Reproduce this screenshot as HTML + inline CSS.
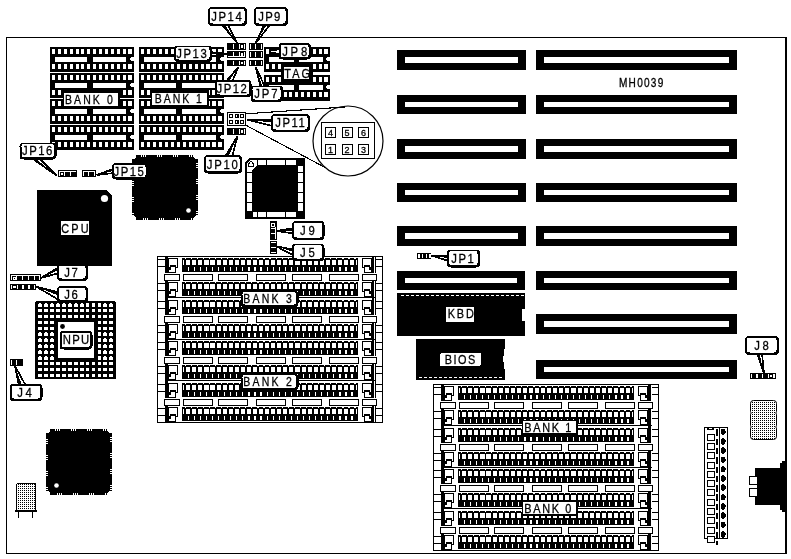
<!DOCTYPE html>
<html><head><meta charset="utf-8"><title>MH0039 motherboard layout diagram</title>
<style>
html,body{margin:0;padding:0;background:#fff;}
body{width:791px;height:559px;overflow:hidden;}
svg{display:block;font-family:"Liberation Sans",sans-serif;}
svg text{stroke:#000;stroke-width:0.3px;}
svg path, svg rect, svg polygon{shape-rendering:crispEdges;}
svg circle, svg .aa{shape-rendering:geometricPrecision;}
svg{will-change:transform;}
</style></head><body>
<svg width="791" height="559" viewBox="0 0 791 559">

<path fill="#000" d="M6 37h781v1h-781zM6 37h1v517h-1zM785 37h2v517h-2zM6 553h781v1h-781zM50 47h84v25h-84z"/>
<path fill="#fff" d="M52 49h3.1v5h-3.1zM52 64h3.1v5h-3.1zM57.88 49h3.1v5h-3.1zM57.88 64h3.1v5h-3.1zM63.75 49h3.1v5h-3.1zM63.75 64h3.1v5h-3.1zM69.63 49h3.1v5h-3.1zM69.63 64h3.1v5h-3.1zM75.51 49h3.1v5h-3.1zM75.51 64h3.1v5h-3.1zM81.38 49h3.1v5h-3.1zM81.38 64h3.1v5h-3.1zM87.26 49h3.1v5h-3.1zM87.26 64h3.1v5h-3.1zM93.14 49h3.1v5h-3.1zM93.14 64h3.1v5h-3.1zM99.02 49h3.1v5h-3.1zM99.02 64h3.1v5h-3.1zM104.89 49h3.1v5h-3.1zM104.89 64h3.1v5h-3.1zM110.77 49h3.1v5h-3.1zM110.77 64h3.1v5h-3.1zM116.65 49h3.1v5h-3.1zM116.65 64h3.1v5h-3.1zM122.52 49h3.1v5h-3.1zM122.52 64h3.1v5h-3.1zM128.4 49h3.1v5h-3.1zM128.4 64h3.1v5h-3.1zM55 57h32v5h-32zM93 57h33v5h-33zM131 57h3v4h-3zM130 58h1v2h-1z"/>
<path fill="#000" d="M139 47h85v25h-85z"/>
<path fill="#fff" d="M141 49h3.1v5h-3.1zM141 64h3.1v5h-3.1zM146.95 49h3.1v5h-3.1zM146.95 64h3.1v5h-3.1zM152.91 49h3.1v5h-3.1zM152.91 64h3.1v5h-3.1zM158.86 49h3.1v5h-3.1zM158.86 64h3.1v5h-3.1zM164.82 49h3.1v5h-3.1zM164.82 64h3.1v5h-3.1zM170.77 49h3.1v5h-3.1zM170.77 64h3.1v5h-3.1zM176.72 49h3.1v5h-3.1zM176.72 64h3.1v5h-3.1zM182.68 49h3.1v5h-3.1zM182.68 64h3.1v5h-3.1zM188.63 49h3.1v5h-3.1zM188.63 64h3.1v5h-3.1zM194.58 49h3.1v5h-3.1zM194.58 64h3.1v5h-3.1zM200.54 49h3.1v5h-3.1zM200.54 64h3.1v5h-3.1zM206.49 49h3.1v5h-3.1zM206.49 64h3.1v5h-3.1zM212.45 49h3.1v5h-3.1zM212.45 64h3.1v5h-3.1zM218.4 49h3.1v5h-3.1zM218.4 64h3.1v5h-3.1zM144 57h32v5h-32zM182 57h34v5h-34zM221 57h3v4h-3zM220 58h1v2h-1z"/>
<path fill="#000" d="M50 73h84v25h-84z"/>
<path fill="#fff" d="M52 75h3.1v5h-3.1zM52 90h3.1v5h-3.1zM57.88 75h3.1v5h-3.1zM57.88 90h3.1v5h-3.1zM63.75 75h3.1v5h-3.1zM63.75 90h3.1v5h-3.1zM69.63 75h3.1v5h-3.1zM69.63 90h3.1v5h-3.1zM75.51 75h3.1v5h-3.1zM75.51 90h3.1v5h-3.1zM81.38 75h3.1v5h-3.1zM81.38 90h3.1v5h-3.1zM87.26 75h3.1v5h-3.1zM87.26 90h3.1v5h-3.1zM93.14 75h3.1v5h-3.1zM93.14 90h3.1v5h-3.1zM99.02 75h3.1v5h-3.1zM99.02 90h3.1v5h-3.1zM104.89 75h3.1v5h-3.1zM104.89 90h3.1v5h-3.1zM110.77 75h3.1v5h-3.1zM110.77 90h3.1v5h-3.1zM116.65 75h3.1v5h-3.1zM116.65 90h3.1v5h-3.1zM122.52 75h3.1v5h-3.1zM122.52 90h3.1v5h-3.1zM128.4 75h3.1v5h-3.1zM128.4 90h3.1v5h-3.1zM55 83h32v5h-32zM93 83h33v5h-33zM131 83h3v4h-3zM130 84h1v2h-1z"/>
<path fill="#000" d="M139 73h85v25h-85z"/>
<path fill="#fff" d="M141 75h3.1v5h-3.1zM141 90h3.1v5h-3.1zM146.95 75h3.1v5h-3.1zM146.95 90h3.1v5h-3.1zM152.91 75h3.1v5h-3.1zM152.91 90h3.1v5h-3.1zM158.86 75h3.1v5h-3.1zM158.86 90h3.1v5h-3.1zM164.82 75h3.1v5h-3.1zM164.82 90h3.1v5h-3.1zM170.77 75h3.1v5h-3.1zM170.77 90h3.1v5h-3.1zM176.72 75h3.1v5h-3.1zM176.72 90h3.1v5h-3.1zM182.68 75h3.1v5h-3.1zM182.68 90h3.1v5h-3.1zM188.63 75h3.1v5h-3.1zM188.63 90h3.1v5h-3.1zM194.58 75h3.1v5h-3.1zM194.58 90h3.1v5h-3.1zM200.54 75h3.1v5h-3.1zM200.54 90h3.1v5h-3.1zM206.49 75h3.1v5h-3.1zM206.49 90h3.1v5h-3.1zM212.45 75h3.1v5h-3.1zM212.45 90h3.1v5h-3.1zM218.4 75h3.1v5h-3.1zM218.4 90h3.1v5h-3.1zM144 83h32v5h-32zM182 83h34v5h-34zM221 83h3v4h-3zM220 84h1v2h-1z"/>
<path fill="#000" d="M50 99h84v25h-84z"/>
<path fill="#fff" d="M52 101h3.1v5h-3.1zM52 116h3.1v5h-3.1zM57.88 101h3.1v5h-3.1zM57.88 116h3.1v5h-3.1zM63.75 101h3.1v5h-3.1zM63.75 116h3.1v5h-3.1zM69.63 101h3.1v5h-3.1zM69.63 116h3.1v5h-3.1zM75.51 101h3.1v5h-3.1zM75.51 116h3.1v5h-3.1zM81.38 101h3.1v5h-3.1zM81.38 116h3.1v5h-3.1zM87.26 101h3.1v5h-3.1zM87.26 116h3.1v5h-3.1zM93.14 101h3.1v5h-3.1zM93.14 116h3.1v5h-3.1zM99.02 101h3.1v5h-3.1zM99.02 116h3.1v5h-3.1zM104.89 101h3.1v5h-3.1zM104.89 116h3.1v5h-3.1zM110.77 101h3.1v5h-3.1zM110.77 116h3.1v5h-3.1zM116.65 101h3.1v5h-3.1zM116.65 116h3.1v5h-3.1zM122.52 101h3.1v5h-3.1zM122.52 116h3.1v5h-3.1zM128.4 101h3.1v5h-3.1zM128.4 116h3.1v5h-3.1zM55 109h32v5h-32zM93 109h33v5h-33zM131 109h3v4h-3zM130 110h1v2h-1z"/>
<path fill="#000" d="M139 99h85v25h-85z"/>
<path fill="#fff" d="M141 101h3.1v5h-3.1zM141 116h3.1v5h-3.1zM146.95 101h3.1v5h-3.1zM146.95 116h3.1v5h-3.1zM152.91 101h3.1v5h-3.1zM152.91 116h3.1v5h-3.1zM158.86 101h3.1v5h-3.1zM158.86 116h3.1v5h-3.1zM164.82 101h3.1v5h-3.1zM164.82 116h3.1v5h-3.1zM170.77 101h3.1v5h-3.1zM170.77 116h3.1v5h-3.1zM176.72 101h3.1v5h-3.1zM176.72 116h3.1v5h-3.1zM182.68 101h3.1v5h-3.1zM182.68 116h3.1v5h-3.1zM188.63 101h3.1v5h-3.1zM188.63 116h3.1v5h-3.1zM194.58 101h3.1v5h-3.1zM194.58 116h3.1v5h-3.1zM200.54 101h3.1v5h-3.1zM200.54 116h3.1v5h-3.1zM206.49 101h3.1v5h-3.1zM206.49 116h3.1v5h-3.1zM212.45 101h3.1v5h-3.1zM212.45 116h3.1v5h-3.1zM218.4 101h3.1v5h-3.1zM218.4 116h3.1v5h-3.1zM144 109h32v5h-32zM182 109h34v5h-34zM221 109h3v4h-3zM220 110h1v2h-1z"/>
<path fill="#000" d="M50 125h84v25h-84z"/>
<path fill="#fff" d="M52 127h3.1v5h-3.1zM52 142h3.1v5h-3.1zM57.88 127h3.1v5h-3.1zM57.88 142h3.1v5h-3.1zM63.75 127h3.1v5h-3.1zM63.75 142h3.1v5h-3.1zM69.63 127h3.1v5h-3.1zM69.63 142h3.1v5h-3.1zM75.51 127h3.1v5h-3.1zM75.51 142h3.1v5h-3.1zM81.38 127h3.1v5h-3.1zM81.38 142h3.1v5h-3.1zM87.26 127h3.1v5h-3.1zM87.26 142h3.1v5h-3.1zM93.14 127h3.1v5h-3.1zM93.14 142h3.1v5h-3.1zM99.02 127h3.1v5h-3.1zM99.02 142h3.1v5h-3.1zM104.89 127h3.1v5h-3.1zM104.89 142h3.1v5h-3.1zM110.77 127h3.1v5h-3.1zM110.77 142h3.1v5h-3.1zM116.65 127h3.1v5h-3.1zM116.65 142h3.1v5h-3.1zM122.52 127h3.1v5h-3.1zM122.52 142h3.1v5h-3.1zM128.4 127h3.1v5h-3.1zM128.4 142h3.1v5h-3.1zM55 135h32v5h-32zM93 135h33v5h-33zM131 135h3v4h-3zM130 136h1v2h-1z"/>
<path fill="#000" d="M139 125h85v25h-85z"/>
<path fill="#fff" d="M141 127h3.1v5h-3.1zM141 142h3.1v5h-3.1zM146.95 127h3.1v5h-3.1zM146.95 142h3.1v5h-3.1zM152.91 127h3.1v5h-3.1zM152.91 142h3.1v5h-3.1zM158.86 127h3.1v5h-3.1zM158.86 142h3.1v5h-3.1zM164.82 127h3.1v5h-3.1zM164.82 142h3.1v5h-3.1zM170.77 127h3.1v5h-3.1zM170.77 142h3.1v5h-3.1zM176.72 127h3.1v5h-3.1zM176.72 142h3.1v5h-3.1zM182.68 127h3.1v5h-3.1zM182.68 142h3.1v5h-3.1zM188.63 127h3.1v5h-3.1zM188.63 142h3.1v5h-3.1zM194.58 127h3.1v5h-3.1zM194.58 142h3.1v5h-3.1zM200.54 127h3.1v5h-3.1zM200.54 142h3.1v5h-3.1zM206.49 127h3.1v5h-3.1zM206.49 142h3.1v5h-3.1zM212.45 127h3.1v5h-3.1zM212.45 142h3.1v5h-3.1zM218.4 127h3.1v5h-3.1zM218.4 142h3.1v5h-3.1zM144 135h32v5h-32zM182 135h34v5h-34zM221 135h3v4h-3zM220 136h1v2h-1z"/>
<path fill="#000" d="M264 47h66v25h-66z"/>
<path fill="#fff" d="M266 49h3.1v5h-3.1zM266 64h3.1v5h-3.1zM271.84 49h3.1v5h-3.1zM271.84 64h3.1v5h-3.1zM277.68 49h3.1v5h-3.1zM277.68 64h3.1v5h-3.1zM283.52 49h3.1v5h-3.1zM283.52 64h3.1v5h-3.1zM289.36 49h3.1v5h-3.1zM289.36 64h3.1v5h-3.1zM295.2 49h3.1v5h-3.1zM295.2 64h3.1v5h-3.1zM301.04 49h3.1v5h-3.1zM301.04 64h3.1v5h-3.1zM306.88 49h3.1v5h-3.1zM306.88 64h3.1v5h-3.1zM312.72 49h3.1v5h-3.1zM312.72 64h3.1v5h-3.1zM318.56 49h3.1v5h-3.1zM318.56 64h3.1v5h-3.1zM324.4 49h3.1v5h-3.1zM324.4 64h3.1v5h-3.1zM268.6 57h25.7v5h-25.7zM299.3 57h24v5h-24zM327 57h3v4h-3zM326 58h1v2h-1z"/>
<path fill="#000" d="M264 75h66v26h-66z"/>
<path fill="#fff" d="M266 77h3.1v5h-3.1zM266 92h3.1v5h-3.1zM271.84 77h3.1v5h-3.1zM271.84 92h3.1v5h-3.1zM277.68 77h3.1v5h-3.1zM277.68 92h3.1v5h-3.1zM283.52 77h3.1v5h-3.1zM283.52 92h3.1v5h-3.1zM289.36 77h3.1v5h-3.1zM289.36 92h3.1v5h-3.1zM295.2 77h3.1v5h-3.1zM295.2 92h3.1v5h-3.1zM301.04 77h3.1v5h-3.1zM301.04 92h3.1v5h-3.1zM306.88 77h3.1v5h-3.1zM306.88 92h3.1v5h-3.1zM312.72 77h3.1v5h-3.1zM312.72 92h3.1v5h-3.1zM318.56 77h3.1v5h-3.1zM318.56 92h3.1v5h-3.1zM324.4 77h3.1v5h-3.1zM324.4 92h3.1v5h-3.1zM268.6 85h25.7v5h-25.7zM299.3 85h24v5h-24zM327 85h3v4h-3zM326 86h1v2h-1z"/>
<path fill="#000" d="M227 43h19v6.7h-19z"/>
<path fill="#fff" d="M233 44h1v4.5h-1zM239 44h1v4.5h-1zM244 44h1v4.5h-1zM240.9 45h2.2v2.7h-2.2z"/>
<path fill="#000" d="M249 43h14v6.7h-14z"/>
<path fill="#fff" d="M250.2 44h1v4.5h-1zM255.3 44h1v4.5h-1zM261 44h1v4.5h-1z"/>
<path fill="#000" d="M227 51h19v7h-19z"/>
<path fill="#fff" d="M233 52h1v4.8h-1zM239 52h1v4.8h-1zM244 52h1v4.8h-1zM240.9 53h2.2v3h-2.2zM228 56.4h16v0.8h-16z"/>
<path fill="#000" d="M249 51h14v7h-14z"/>
<path fill="#fff" d="M250.2 52h1v4.8h-1zM255.3 52h1v4.8h-1zM261 52h1v4.8h-1z"/>
<path fill="#000" d="M227 60h19v6h-19z"/>
<path fill="#fff" d="M233 61h1v3.8h-1zM239 61h1v3.8h-1zM244 61h1v3.8h-1zM240.9 62h2.2v2h-2.2z"/>
<path fill="#000" d="M249 60h14v6h-14z"/>
<path fill="#fff" d="M250.2 61h1v3.8h-1zM255.3 61h1v3.8h-1zM261 61h1v3.8h-1z"/>
<path fill="#000" d="M227 112h19v13.7h-19z"/>
<path fill="#fff" d="M228 113h17v11.7h-17z"/>
<path fill="#000" d="M229.3 114h3.8v4.4h-3.8z"/>
<path fill="#fff" d="M230.4 115.2h1.6v2h-1.6z"/>
<path fill="#000" d="M234.7 114h3.8v4.4h-3.8z"/>
<path fill="#fff" d="M235.8 115.2h1.6v2h-1.6z"/>
<path fill="#000" d="M240.1 114h3.8v4.4h-3.8z"/>
<path fill="#fff" d="M241.2 115.2h1.6v2h-1.6z"/>
<path fill="#000" d="M229.3 119.6h3.8v4.4h-3.8z"/>
<path fill="#fff" d="M230.4 120.8h1.6v2h-1.6z"/>
<path fill="#000" d="M234.7 119.6h3.8v4.4h-3.8z"/>
<path fill="#fff" d="M235.8 120.8h1.6v2h-1.6z"/>
<path fill="#000" d="M240.1 119.6h3.8v4.4h-3.8z"/>
<path fill="#fff" d="M241.2 120.8h1.6v2h-1.6z"/>
<path fill="#000" d="M227 128h19v7h-19z"/>
<path fill="#fff" d="M233 129h1v4.8h-1zM239 129h1v4.8h-1zM244 129h1v4.8h-1zM240.9 130h2.2v3h-2.2z"/>
<circle cx="348" cy="141" r="35" fill="#fff" stroke="#000" stroke-width="1.2"/>
<path d="M246 113.8L345 107M246 125.3L326 168" stroke="#000" stroke-width="1.1" fill="none"/>
<path fill="#000" d="M321 122h54v37h-54z"/>
<path fill="#fff" d="M322 123h52v35h-52z"/>
<path fill="#000" d="M325 127h11v11h-11z"/>
<path fill="#fff" d="M326 128h9v9h-9z"/>
<text x="330.5" y="135.9" font-size="9" fill="#000" text-anchor="middle" letter-spacing="0">4</text>
<path fill="#000" d="M341.5 127h11v11h-11z"/>
<path fill="#fff" d="M342.5 128h9v9h-9z"/>
<text x="347" y="135.9" font-size="9" fill="#000" text-anchor="middle" letter-spacing="0">5</text>
<path fill="#000" d="M358 127h11v11h-11z"/>
<path fill="#fff" d="M359 128h9v9h-9z"/>
<text x="363.5" y="135.9" font-size="9" fill="#000" text-anchor="middle" letter-spacing="0">6</text>
<path fill="#000" d="M325 144h11v11h-11z"/>
<path fill="#fff" d="M326 145h9v9h-9z"/>
<text x="330.5" y="152.9" font-size="9" fill="#000" text-anchor="middle" letter-spacing="0">1</text>
<path fill="#000" d="M341.5 144h11v11h-11z"/>
<path fill="#fff" d="M342.5 145h9v9h-9z"/>
<text x="347" y="152.9" font-size="9" fill="#000" text-anchor="middle" letter-spacing="0">2</text>
<path fill="#000" d="M358 144h11v11h-11z"/>
<path fill="#fff" d="M359 145h9v9h-9z"/>
<text x="363.5" y="152.9" font-size="9" fill="#000" text-anchor="middle" letter-spacing="0">3</text>
<path d="M249 158H305V219H245V162z" fill="#000"/>
<path d="M250 160H303V217H247V163z" fill="#fff"/>
<path d="M257 165H298V212H252V170z" fill="#000"/>
<path fill="#000" d="M297 158h8v8h-8zM245 211h8v8h-8zM297 211h8v8h-8zM257 160h1v5h-1zM257 212h1v5h-1zM266 160h1v5h-1zM266 212h1v5h-1zM285 160h1v5h-1zM285 212h1v5h-1zM296 160h1v5h-1zM296 212h1v5h-1zM247 172h5v1h-5zM298 172h5v1h-5zM247 182h5v1h-5zM298 182h5v1h-5zM247 192h5v1h-5zM298 192h5v1h-5zM247 202h5v1h-5zM298 202h5v1h-5z"/>
<path d="M248.5 164l2.5 -3l2.5 3v2.5h-5z" fill="#fff" stroke="#000" stroke-width="1"/>
<path fill="#000" d="M132 155h66v65h-66z"/>
<path fill="#fff" d="M132 155h3v4h-3zM132 155h4v3h-4zM195 155h3v4h-3zM194 155h4v3h-4zM132 216h3v4h-3zM132 217h4v3h-4zM195 216h3v4h-3zM194 217h4v3h-4zM141 155h0.8v2.2h-0.8zM143 217.8h0.8v2.2h-0.8zM132 165h2.2v0.8h-2.2zM195.8 163h2.2v0.8h-2.2zM143 155h0.8v2.2h-0.8zM145 217.8h0.8v2.2h-0.8zM132 167h2.2v0.8h-2.2zM195.8 165h2.2v0.8h-2.2zM145 155h0.8v2.2h-0.8zM147 217.8h0.8v2.2h-0.8zM132 169h2.2v0.8h-2.2zM195.8 167h2.2v0.8h-2.2zM157 155h0.8v2.2h-0.8zM159 217.8h0.8v2.2h-0.8zM132 181h2.2v0.8h-2.2zM195.8 179h2.2v0.8h-2.2zM159 155h0.8v2.2h-0.8zM161 217.8h0.8v2.2h-0.8zM132 183h2.2v0.8h-2.2zM195.8 181h2.2v0.8h-2.2zM161 155h0.8v2.2h-0.8zM163 217.8h0.8v2.2h-0.8zM132 185h2.2v0.8h-2.2zM195.8 183h2.2v0.8h-2.2zM173 155h0.8v2.2h-0.8zM175 217.8h0.8v2.2h-0.8zM132 197h2.2v0.8h-2.2zM195.8 195h2.2v0.8h-2.2zM175 155h0.8v2.2h-0.8zM177 217.8h0.8v2.2h-0.8zM132 199h2.2v0.8h-2.2zM195.8 197h2.2v0.8h-2.2zM177 155h0.8v2.2h-0.8zM179 217.8h0.8v2.2h-0.8zM132 201h2.2v0.8h-2.2zM195.8 199h2.2v0.8h-2.2zM189 155h0.8v2.2h-0.8zM191 217.8h0.8v2.2h-0.8zM132 213h2.2v0.8h-2.2zM195.8 211h2.2v0.8h-2.2zM191 155h0.8v2.2h-0.8zM193 217.8h0.8v2.2h-0.8zM132 215h2.2v0.8h-2.2zM195.8 213h2.2v0.8h-2.2zM193 155h0.8v2.2h-0.8zM195 217.8h0.8v2.2h-0.8zM132 217h2.2v0.8h-2.2zM195.8 215h2.2v0.8h-2.2z"/>
<circle cx="188.5" cy="210.5" r="2.3" fill="#fff"/>
<path fill="#000" d="M46 429h66v66h-66z"/>
<path fill="#fff" d="M46 429h3v4h-3zM46 429h4v3h-4zM109 429h3v4h-3zM108 429h4v3h-4zM46 491h3v4h-3zM46 492h4v3h-4zM109 491h3v4h-3zM108 492h4v3h-4zM55 429h0.8v2.2h-0.8zM57 492.8h0.8v2.2h-0.8zM46 439h2.2v0.8h-2.2zM109.8 437h2.2v0.8h-2.2zM57 429h0.8v2.2h-0.8zM59 492.8h0.8v2.2h-0.8zM46 441h2.2v0.8h-2.2zM109.8 439h2.2v0.8h-2.2zM59 429h0.8v2.2h-0.8zM61 492.8h0.8v2.2h-0.8zM46 443h2.2v0.8h-2.2zM109.8 441h2.2v0.8h-2.2zM71 429h0.8v2.2h-0.8zM73 492.8h0.8v2.2h-0.8zM46 455h2.2v0.8h-2.2zM109.8 453h2.2v0.8h-2.2zM73 429h0.8v2.2h-0.8zM75 492.8h0.8v2.2h-0.8zM46 457h2.2v0.8h-2.2zM109.8 455h2.2v0.8h-2.2zM75 429h0.8v2.2h-0.8zM77 492.8h0.8v2.2h-0.8zM46 459h2.2v0.8h-2.2zM109.8 457h2.2v0.8h-2.2zM87 429h0.8v2.2h-0.8zM89 492.8h0.8v2.2h-0.8zM46 471h2.2v0.8h-2.2zM109.8 469h2.2v0.8h-2.2zM89 429h0.8v2.2h-0.8zM91 492.8h0.8v2.2h-0.8zM46 473h2.2v0.8h-2.2zM109.8 471h2.2v0.8h-2.2zM91 429h0.8v2.2h-0.8zM93 492.8h0.8v2.2h-0.8zM46 475h2.2v0.8h-2.2zM109.8 473h2.2v0.8h-2.2zM103 429h0.8v2.2h-0.8zM105 492.8h0.8v2.2h-0.8zM46 487h2.2v0.8h-2.2zM109.8 485h2.2v0.8h-2.2zM105 429h0.8v2.2h-0.8zM107 492.8h0.8v2.2h-0.8zM46 489h2.2v0.8h-2.2zM109.8 487h2.2v0.8h-2.2zM107 429h0.8v2.2h-0.8zM109 492.8h0.8v2.2h-0.8zM46 491h2.2v0.8h-2.2zM109.8 489h2.2v0.8h-2.2z"/>
<circle cx="56.5" cy="485.5" r="2.3" fill="#fff"/>
<path d="M37 190H106L112 196V266H37z" fill="#000"/>
<circle cx="104.5" cy="198.5" r="3.6" fill="#fff"/>
<path fill="#fff" d="M61 221h28v14h-28z"/>
<text transform="translate(61.24 232.6) scale(0.84 1)" font-size="13" fill="#000" textLength="32.77" lengthAdjust="spacing">CPU</text>
<path fill="#000" d="M58 170h19v7h-19z"/>
<path fill="#fff" d="M59 171.1h17v0.9h-17zM59 171.1h1v4.7h-1zM64 171.1h1v4.7h-1zM70 171.1h1v4.7h-1zM60.8 173h2.3v2.3h-2.3z"/>
<path fill="#000" d="M61.5 173.7h0.9v0.9h-0.9zM82 170h14v7h-14z"/>
<path fill="#fff" d="M83.2 171.1h11.6v0.9h-11.6zM83.2 171.1h1v4.7h-1zM88.4 171.1h1v4.7h-1zM94 171.1h0.9v4.7h-0.9z"/>
<path fill="#000" d="M270 221h7v18.7h-7z"/>
<path fill="#fff" d="M271.1 222.5h4.1v4.4h-4.1z"/>
<path fill="#000" d="M272.1 223.7h2v2h-2z"/>
<path fill="#fff" d="M271 228h4.2v0.8h-4.2zM271 233.4h4.2v0.8h-4.2zM275.2 227h0.8v12h-0.8z"/>
<path fill="#000" d="M270 241h7v13.3h-7z"/>
<path fill="#fff" d="M271 242.2h5v0.9h-5zM271 247h5v1.4h-5zM271 251.5h5v1.2h-5z"/>
<path fill="#000" d="M10 274h31v7h-31z"/>
<path fill="#fff" d="M11.2 275.2h28.9v0.9h-28.9zM11.2 275.2h1v4.8h-1zM16.2 275.2h1v4.8h-1zM22.2 275.2h1v4.8h-1zM28.2 275.2h1v4.8h-1zM33.7 275.2h1v4.8h-1zM39.1 275.2h1v4.8h-1zM12.7 276.7h3v2.8h-3z"/>
<path fill="#000" d="M13.6 277.5h1.2v1.2h-1.2zM10 284h26v6h-26z"/>
<path fill="#fff" d="M11.2 285.1h1v4.1h-1zM17.2 285.1h1v4.1h-1zM22 285.1h2v4.1h-2zM28 285.1h2v4.1h-2zM34 285.1h1v4.1h-1zM12.7 286h3.4v2h-3.4z"/>
<path fill="#000" d="M35 301h81v78h-81z"/>
<path fill="#fff" d="M35 301h1v1h-1zM115 301h1v1h-1zM38.2 303.6h3.8v3h-3.8zM39 303h2.2v0.6h-2.2zM44.13 303.6h3.8v3h-3.8zM44.93 303h2.2v0.6h-2.2zM50.06 303.6h3.8v3h-3.8zM50.86 303h2.2v0.6h-2.2zM55.99 303.6h3.8v3h-3.8zM56.79 303h2.2v0.6h-2.2zM61.92 303.6h3.8v3h-3.8zM62.72 303h2.2v0.6h-2.2zM67.85 303.6h3.8v3h-3.8zM68.65 303h2.2v0.6h-2.2zM73.78 303.6h3.8v3h-3.8zM74.58 303h2.2v0.6h-2.2zM79.71 303.6h3.8v3h-3.8zM80.51 303h2.2v0.6h-2.2zM85.64 303.6h3.8v3h-3.8zM86.44 303h2.2v0.6h-2.2zM91.57 303.6h3.8v3h-3.8zM92.37 303h2.2v0.6h-2.2zM97.5 303.6h3.8v3h-3.8zM98.3 303h2.2v0.6h-2.2zM103.43 303.6h3.8v3h-3.8zM104.23 303h2.2v0.6h-2.2zM109.36 303.6h3.8v3h-3.8zM110.16 303h2.2v0.6h-2.2zM38.2 309.48h3.8v3h-3.8zM39 308.88h2.2v0.6h-2.2zM44.13 309.48h3.8v3h-3.8zM44.93 308.88h2.2v0.6h-2.2zM50.06 309.48h3.8v3h-3.8zM50.86 308.88h2.2v0.6h-2.2zM55.99 309.48h3.8v3h-3.8zM56.79 308.88h2.2v0.6h-2.2zM61.92 309.48h3.8v3h-3.8zM62.72 308.88h2.2v0.6h-2.2zM67.85 309.48h3.8v3h-3.8zM68.65 308.88h2.2v0.6h-2.2zM73.78 309.48h3.8v3h-3.8zM74.58 308.88h2.2v0.6h-2.2zM79.71 309.48h3.8v3h-3.8zM80.51 308.88h2.2v0.6h-2.2zM85.64 309.48h3.8v3h-3.8zM86.44 308.88h2.2v0.6h-2.2zM91.57 309.48h3.8v3h-3.8zM92.37 308.88h2.2v0.6h-2.2zM97.5 309.48h3.8v3h-3.8zM98.3 308.88h2.2v0.6h-2.2zM103.43 309.48h3.8v3h-3.8zM104.23 308.88h2.2v0.6h-2.2zM109.36 309.48h3.8v3h-3.8zM110.16 308.88h2.2v0.6h-2.2zM38.2 315.36h3.8v3h-3.8zM39 314.76h2.2v0.6h-2.2zM44.13 315.36h3.8v3h-3.8zM44.93 314.76h2.2v0.6h-2.2zM50.06 315.36h3.8v3h-3.8zM50.86 314.76h2.2v0.6h-2.2zM55.99 315.36h3.8v3h-3.8zM56.79 314.76h2.2v0.6h-2.2zM61.92 315.36h3.8v3h-3.8zM62.72 314.76h2.2v0.6h-2.2zM67.85 315.36h3.8v3h-3.8zM68.65 314.76h2.2v0.6h-2.2zM73.78 315.36h3.8v3h-3.8zM74.58 314.76h2.2v0.6h-2.2zM79.71 315.36h3.8v3h-3.8zM80.51 314.76h2.2v0.6h-2.2zM85.64 315.36h3.8v3h-3.8zM86.44 314.76h2.2v0.6h-2.2zM91.57 315.36h3.8v3h-3.8zM92.37 314.76h2.2v0.6h-2.2zM97.5 315.36h3.8v3h-3.8zM98.3 314.76h2.2v0.6h-2.2zM103.43 315.36h3.8v3h-3.8zM104.23 314.76h2.2v0.6h-2.2zM109.36 315.36h3.8v3h-3.8zM110.16 314.76h2.2v0.6h-2.2zM38.2 321.24h3.8v3h-3.8zM39 320.64h2.2v0.6h-2.2zM44.13 321.24h3.8v3h-3.8zM44.93 320.64h2.2v0.6h-2.2zM50.06 321.24h3.8v3h-3.8zM50.86 320.64h2.2v0.6h-2.2zM97.5 321.24h3.8v3h-3.8zM98.3 320.64h2.2v0.6h-2.2zM103.43 321.24h3.8v3h-3.8zM104.23 320.64h2.2v0.6h-2.2zM109.36 321.24h3.8v3h-3.8zM110.16 320.64h2.2v0.6h-2.2zM38.2 327.12h3.8v3h-3.8zM39 326.52h2.2v0.6h-2.2zM44.13 327.12h3.8v3h-3.8zM44.93 326.52h2.2v0.6h-2.2zM50.06 327.12h3.8v3h-3.8zM50.86 326.52h2.2v0.6h-2.2zM97.5 327.12h3.8v3h-3.8zM98.3 326.52h2.2v0.6h-2.2zM103.43 327.12h3.8v3h-3.8zM104.23 326.52h2.2v0.6h-2.2zM109.36 327.12h3.8v3h-3.8zM110.16 326.52h2.2v0.6h-2.2zM38.2 333h3.8v3h-3.8zM39 332.4h2.2v0.6h-2.2zM44.13 333h3.8v3h-3.8zM44.93 332.4h2.2v0.6h-2.2zM50.06 333h3.8v3h-3.8zM50.86 332.4h2.2v0.6h-2.2zM97.5 333h3.8v3h-3.8zM98.3 332.4h2.2v0.6h-2.2zM103.43 333h3.8v3h-3.8zM104.23 332.4h2.2v0.6h-2.2zM109.36 333h3.8v3h-3.8zM110.16 332.4h2.2v0.6h-2.2zM38.2 338.88h3.8v3h-3.8zM39 338.28h2.2v0.6h-2.2zM44.13 338.88h3.8v3h-3.8zM44.93 338.28h2.2v0.6h-2.2zM50.06 338.88h3.8v3h-3.8zM50.86 338.28h2.2v0.6h-2.2zM97.5 338.88h3.8v3h-3.8zM98.3 338.28h2.2v0.6h-2.2zM103.43 338.88h3.8v3h-3.8zM104.23 338.28h2.2v0.6h-2.2zM109.36 338.88h3.8v3h-3.8zM110.16 338.28h2.2v0.6h-2.2zM38.2 344.76h3.8v3h-3.8zM39 344.16h2.2v0.6h-2.2zM44.13 344.76h3.8v3h-3.8zM44.93 344.16h2.2v0.6h-2.2zM50.06 344.76h3.8v3h-3.8zM50.86 344.16h2.2v0.6h-2.2zM97.5 344.76h3.8v3h-3.8zM98.3 344.16h2.2v0.6h-2.2zM103.43 344.76h3.8v3h-3.8zM104.23 344.16h2.2v0.6h-2.2zM109.36 344.76h3.8v3h-3.8zM110.16 344.16h2.2v0.6h-2.2zM38.2 350.64h3.8v3h-3.8zM39 350.04h2.2v0.6h-2.2zM44.13 350.64h3.8v3h-3.8zM44.93 350.04h2.2v0.6h-2.2zM50.06 350.64h3.8v3h-3.8zM50.86 350.04h2.2v0.6h-2.2zM97.5 350.64h3.8v3h-3.8zM98.3 350.04h2.2v0.6h-2.2zM103.43 350.64h3.8v3h-3.8zM104.23 350.04h2.2v0.6h-2.2zM109.36 350.64h3.8v3h-3.8zM110.16 350.04h2.2v0.6h-2.2zM38.2 356.52h3.8v3h-3.8zM39 355.92h2.2v0.6h-2.2zM44.13 356.52h3.8v3h-3.8zM44.93 355.92h2.2v0.6h-2.2zM50.06 356.52h3.8v3h-3.8zM50.86 355.92h2.2v0.6h-2.2zM97.5 356.52h3.8v3h-3.8zM98.3 355.92h2.2v0.6h-2.2zM103.43 356.52h3.8v3h-3.8zM104.23 355.92h2.2v0.6h-2.2zM109.36 356.52h3.8v3h-3.8zM110.16 355.92h2.2v0.6h-2.2zM38.2 362.4h3.8v3h-3.8zM39 361.8h2.2v0.6h-2.2zM44.13 362.4h3.8v3h-3.8zM44.93 361.8h2.2v0.6h-2.2zM50.06 362.4h3.8v3h-3.8zM50.86 361.8h2.2v0.6h-2.2zM55.99 362.4h3.8v3h-3.8zM56.79 361.8h2.2v0.6h-2.2zM61.92 362.4h3.8v3h-3.8zM62.72 361.8h2.2v0.6h-2.2zM67.85 362.4h3.8v3h-3.8zM68.65 361.8h2.2v0.6h-2.2zM73.78 362.4h3.8v3h-3.8zM74.58 361.8h2.2v0.6h-2.2zM79.71 362.4h3.8v3h-3.8zM80.51 361.8h2.2v0.6h-2.2zM85.64 362.4h3.8v3h-3.8zM86.44 361.8h2.2v0.6h-2.2zM91.57 362.4h3.8v3h-3.8zM92.37 361.8h2.2v0.6h-2.2zM97.5 362.4h3.8v3h-3.8zM98.3 361.8h2.2v0.6h-2.2zM103.43 362.4h3.8v3h-3.8zM104.23 361.8h2.2v0.6h-2.2zM109.36 362.4h3.8v3h-3.8zM110.16 361.8h2.2v0.6h-2.2zM38.2 368.28h3.8v3h-3.8zM39 367.68h2.2v0.6h-2.2zM44.13 368.28h3.8v3h-3.8zM44.93 367.68h2.2v0.6h-2.2zM50.06 368.28h3.8v3h-3.8zM50.86 367.68h2.2v0.6h-2.2zM55.99 368.28h3.8v3h-3.8zM56.79 367.68h2.2v0.6h-2.2zM61.92 368.28h3.8v3h-3.8zM62.72 367.68h2.2v0.6h-2.2zM67.85 368.28h3.8v3h-3.8zM68.65 367.68h2.2v0.6h-2.2zM73.78 368.28h3.8v3h-3.8zM74.58 367.68h2.2v0.6h-2.2zM79.71 368.28h3.8v3h-3.8zM80.51 367.68h2.2v0.6h-2.2zM85.64 368.28h3.8v3h-3.8zM86.44 367.68h2.2v0.6h-2.2zM91.57 368.28h3.8v3h-3.8zM92.37 367.68h2.2v0.6h-2.2zM97.5 368.28h3.8v3h-3.8zM98.3 367.68h2.2v0.6h-2.2zM103.43 368.28h3.8v3h-3.8zM104.23 367.68h2.2v0.6h-2.2zM109.36 368.28h3.8v3h-3.8zM110.16 367.68h2.2v0.6h-2.2zM38.2 374.16h3.8v3h-3.8zM39 373.56h2.2v0.6h-2.2zM44.13 374.16h3.8v3h-3.8zM44.93 373.56h2.2v0.6h-2.2zM50.06 374.16h3.8v3h-3.8zM50.86 373.56h2.2v0.6h-2.2zM55.99 374.16h3.8v3h-3.8zM56.79 373.56h2.2v0.6h-2.2zM61.92 374.16h3.8v3h-3.8zM62.72 373.56h2.2v0.6h-2.2zM67.85 374.16h3.8v3h-3.8zM68.65 373.56h2.2v0.6h-2.2zM73.78 374.16h3.8v3h-3.8zM74.58 373.56h2.2v0.6h-2.2zM79.71 374.16h3.8v3h-3.8zM80.51 373.56h2.2v0.6h-2.2zM85.64 374.16h3.8v3h-3.8zM86.44 373.56h2.2v0.6h-2.2zM91.57 374.16h3.8v3h-3.8zM92.37 373.56h2.2v0.6h-2.2zM97.5 374.16h3.8v3h-3.8zM98.3 373.56h2.2v0.6h-2.2zM103.43 374.16h3.8v3h-3.8zM104.23 373.56h2.2v0.6h-2.2zM109.36 374.16h3.8v3h-3.8zM110.16 373.56h2.2v0.6h-2.2zM58 322h36v36h-36z"/>
<circle cx="62.5" cy="326.5" r="2.4" fill="#000"/>
<path fill="#000" d="M10 359h13v7h-13z"/>
<path fill="#fff" d="M11.4 360h1v5h-1zM16.3 360h1v5h-1z"/>
<defs><pattern id="dots" width="2" height="2" patternUnits="userSpaceOnUse"><rect width="2" height="2" fill="#fff"/><rect width="1" height="1" fill="#000"/></pattern></defs>
<rect x="16.5" y="483.5" width="19" height="27" rx="1.5" fill="url(#dots)" stroke="#000" stroke-width="1"/>
<path fill="#000" d="M15 510h22v2h-22zM18 512h1v6h-1zM32 512h1v6h-1zM157 256h226v167h-226z"/>
<path fill="#fff" d="M158 257h224v165h-224z"/>
<path fill="#000" d="M165 256h3v16.5h-3zM371.5 256h2v16.5h-2zM375 256h1v16.5h-1zM157 259h8v1h-8zM157 266h8v1h-8zM168 258h10v10h-10z"/>
<path fill="#fff" d="M169 259h8v8h-8z"/>
<path d="M170.5 266h5v6.2h-7.5v-3.2h2.5z" fill="#fff" stroke="#000" stroke-width="1.2"/>
<path fill="#000" d="M168 267h3v2h-3zM182.3 258h175.5v13.8h-175.5z"/>
<path fill="#fff" d="M183.3 260h1v5h-1zM355.8 260h1v5h-1zM186.2 260h4.1v5h-4.1zM187.6 267h1.2v4h-1.2zM192.27 260h4.1v5h-4.1zM193.67 267h1.2v4h-1.2zM198.34 260h4.1v5h-4.1zM199.74 267h1.2v4h-1.2zM204.41 260h4.1v5h-4.1zM205.81 267h1.2v4h-1.2zM210.48 260h4.1v5h-4.1zM211.88 267h1.2v4h-1.2zM216.55 260h4.1v5h-4.1zM217.95 267h1.2v4h-1.2zM222.62 260h4.1v5h-4.1zM224.02 267h1.2v4h-1.2zM228.69 260h4.1v5h-4.1zM230.09 267h1.2v4h-1.2zM234.76 260h4.1v5h-4.1zM236.16 267h1.2v4h-1.2zM240.83 260h4.1v5h-4.1zM242.23 267h1.2v4h-1.2zM246.9 260h4.1v5h-4.1zM248.3 267h1.2v4h-1.2zM252.97 260h4.1v5h-4.1zM254.37 267h1.2v4h-1.2zM259.04 260h4.1v5h-4.1zM260.44 267h1.2v4h-1.2zM265.11 260h4.1v5h-4.1zM266.51 267h1.2v4h-1.2zM271.18 260h4.1v5h-4.1zM272.58 267h1.2v4h-1.2zM277.25 260h4.1v5h-4.1zM278.65 267h1.2v4h-1.2zM283.32 260h4.1v5h-4.1zM284.72 267h1.2v4h-1.2zM289.39 260h4.1v5h-4.1zM290.79 267h1.2v4h-1.2zM295.46 260h4.1v5h-4.1zM296.86 267h1.2v4h-1.2zM301.53 260h4.1v5h-4.1zM302.93 267h1.2v4h-1.2zM307.6 260h4.1v5h-4.1zM309 267h1.2v4h-1.2zM313.67 260h4.1v5h-4.1zM315.07 267h1.2v4h-1.2zM319.74 260h4.1v5h-4.1zM321.14 267h1.2v4h-1.2zM325.81 260h4.1v5h-4.1zM327.21 267h1.2v4h-1.2zM331.88 260h4.1v5h-4.1zM333.28 267h1.2v4h-1.2zM337.95 260h4.1v5h-4.1zM339.35 267h1.2v4h-1.2zM344.02 260h4.1v5h-4.1zM345.42 267h1.2v4h-1.2zM350.09 260h4.1v5h-4.1zM351.49 267h1.2v4h-1.2zM184.5 258h1.2v1h-1.2zM190.57 258h1.2v1h-1.2zM196.64 258h1.2v1h-1.2zM202.71 258h1.2v1h-1.2zM208.78 258h1.2v1h-1.2zM214.85 258h1.2v1h-1.2zM220.92 258h1.2v1h-1.2zM226.99 258h1.2v1h-1.2zM233.06 258h1.2v1h-1.2zM239.13 258h1.2v1h-1.2zM245.2 258h1.2v1h-1.2zM251.27 258h1.2v1h-1.2zM257.34 258h1.2v1h-1.2zM263.41 258h1.2v1h-1.2zM269.48 258h1.2v1h-1.2zM275.55 258h1.2v1h-1.2zM281.62 258h1.2v1h-1.2zM287.69 258h1.2v1h-1.2zM293.76 258h1.2v1h-1.2zM299.83 258h1.2v1h-1.2zM305.9 258h1.2v1h-1.2zM311.97 258h1.2v1h-1.2zM318.04 258h1.2v1h-1.2zM324.11 258h1.2v1h-1.2zM330.18 258h1.2v1h-1.2zM336.25 258h1.2v1h-1.2zM342.32 258h1.2v1h-1.2zM348.39 258h1.2v1h-1.2zM354.46 258h1.2v1h-1.2z"/>
<path fill="#000" d="M362 258h10.4v10h-10.4z"/>
<path fill="#fff" d="M363 259h8.4v8h-8.4z"/>
<path d="M364.5 266h5v3h2.5v3.2h-7.5z" fill="#fff" stroke="#000" stroke-width="1.2"/>
<path fill="#000" d="M369.5 267h3v2h-3zM376 259h7v1h-7zM376 266h7v1h-7zM164 274h16v7h-16z"/>
<path fill="#fff" d="M165 275h14v5h-14z"/>
<path fill="#000" d="M183 274h30v7h-30z"/>
<path fill="#fff" d="M184 275h28v5h-28z"/>
<path fill="#000" d="M218 274h30v7h-30z"/>
<path fill="#fff" d="M219 275h28v5h-28z"/>
<path fill="#000" d="M256 274h30v7h-30z"/>
<path fill="#fff" d="M257 275h28v5h-28z"/>
<path fill="#000" d="M292 274h30v7h-30z"/>
<path fill="#fff" d="M293 275h28v5h-28z"/>
<path fill="#000" d="M329 274h30v7h-30z"/>
<path fill="#fff" d="M330 275h28v5h-28z"/>
<path fill="#000" d="M362 274h15v7h-15z"/>
<path fill="#fff" d="M363 275h13v5h-13z"/>
<path fill="#000" d="M157 283h8v1h-8zM157 290h8v1h-8zM168 282h10v10h-10z"/>
<path fill="#fff" d="M169 283h8v8h-8z"/>
<path d="M170.5 290h5v6.2h-7.5v-3.2h2.5z" fill="#fff" stroke="#000" stroke-width="1.2"/>
<path fill="#000" d="M168 291h3v2h-3zM182.3 282h175.5v13.8h-175.5z"/>
<path fill="#fff" d="M183.3 284h1v5h-1zM355.8 284h1v5h-1zM186.2 284h4.1v5h-4.1zM187.6 291h1.2v4h-1.2zM192.27 284h4.1v5h-4.1zM193.67 291h1.2v4h-1.2zM198.34 284h4.1v5h-4.1zM199.74 291h1.2v4h-1.2zM204.41 284h4.1v5h-4.1zM205.81 291h1.2v4h-1.2zM210.48 284h4.1v5h-4.1zM211.88 291h1.2v4h-1.2zM216.55 284h4.1v5h-4.1zM217.95 291h1.2v4h-1.2zM222.62 284h4.1v5h-4.1zM224.02 291h1.2v4h-1.2zM228.69 284h4.1v5h-4.1zM230.09 291h1.2v4h-1.2zM234.76 284h4.1v5h-4.1zM236.16 291h1.2v4h-1.2zM240.83 284h4.1v5h-4.1zM242.23 291h1.2v4h-1.2zM246.9 284h4.1v5h-4.1zM248.3 291h1.2v4h-1.2zM252.97 284h4.1v5h-4.1zM254.37 291h1.2v4h-1.2zM259.04 284h4.1v5h-4.1zM260.44 291h1.2v4h-1.2zM265.11 284h4.1v5h-4.1zM266.51 291h1.2v4h-1.2zM271.18 284h4.1v5h-4.1zM272.58 291h1.2v4h-1.2zM277.25 284h4.1v5h-4.1zM278.65 291h1.2v4h-1.2zM283.32 284h4.1v5h-4.1zM284.72 291h1.2v4h-1.2zM289.39 284h4.1v5h-4.1zM290.79 291h1.2v4h-1.2zM295.46 284h4.1v5h-4.1zM296.86 291h1.2v4h-1.2zM301.53 284h4.1v5h-4.1zM302.93 291h1.2v4h-1.2zM307.6 284h4.1v5h-4.1zM309 291h1.2v4h-1.2zM313.67 284h4.1v5h-4.1zM315.07 291h1.2v4h-1.2zM319.74 284h4.1v5h-4.1zM321.14 291h1.2v4h-1.2zM325.81 284h4.1v5h-4.1zM327.21 291h1.2v4h-1.2zM331.88 284h4.1v5h-4.1zM333.28 291h1.2v4h-1.2zM337.95 284h4.1v5h-4.1zM339.35 291h1.2v4h-1.2zM344.02 284h4.1v5h-4.1zM345.42 291h1.2v4h-1.2zM350.09 284h4.1v5h-4.1zM351.49 291h1.2v4h-1.2zM184.5 282h1.2v1h-1.2zM190.57 282h1.2v1h-1.2zM196.64 282h1.2v1h-1.2zM202.71 282h1.2v1h-1.2zM208.78 282h1.2v1h-1.2zM214.85 282h1.2v1h-1.2zM220.92 282h1.2v1h-1.2zM226.99 282h1.2v1h-1.2zM233.06 282h1.2v1h-1.2zM239.13 282h1.2v1h-1.2zM245.2 282h1.2v1h-1.2zM251.27 282h1.2v1h-1.2zM257.34 282h1.2v1h-1.2zM263.41 282h1.2v1h-1.2zM269.48 282h1.2v1h-1.2zM275.55 282h1.2v1h-1.2zM281.62 282h1.2v1h-1.2zM287.69 282h1.2v1h-1.2zM293.76 282h1.2v1h-1.2zM299.83 282h1.2v1h-1.2zM305.9 282h1.2v1h-1.2zM311.97 282h1.2v1h-1.2zM318.04 282h1.2v1h-1.2zM324.11 282h1.2v1h-1.2zM330.18 282h1.2v1h-1.2zM336.25 282h1.2v1h-1.2zM342.32 282h1.2v1h-1.2zM348.39 282h1.2v1h-1.2zM354.46 282h1.2v1h-1.2z"/>
<path fill="#000" d="M362 282h10.4v10h-10.4z"/>
<path fill="#fff" d="M363 283h8.4v8h-8.4z"/>
<path d="M364.5 290h5v3h2.5v3.2h-7.5z" fill="#fff" stroke="#000" stroke-width="1.2"/>
<path fill="#000" d="M369.5 291h3v2h-3zM376 283h7v1h-7zM376 290h7v1h-7zM168 297h208v1h-208zM165 281h3v33.5h-3zM371.5 281h2v33.5h-2zM375 281h1v33.5h-1zM157 301h8v1h-8zM157 308h8v1h-8zM168 300h10v10h-10z"/>
<path fill="#fff" d="M169 301h8v8h-8z"/>
<path d="M170.5 308h5v6.2h-7.5v-3.2h2.5z" fill="#fff" stroke="#000" stroke-width="1.2"/>
<path fill="#000" d="M168 309h3v2h-3zM182.3 300h175.5v13.8h-175.5z"/>
<path fill="#fff" d="M183.3 302h1v5h-1zM355.8 302h1v5h-1zM186.2 302h4.1v5h-4.1zM187.6 309h1.2v4h-1.2zM192.27 302h4.1v5h-4.1zM193.67 309h1.2v4h-1.2zM198.34 302h4.1v5h-4.1zM199.74 309h1.2v4h-1.2zM204.41 302h4.1v5h-4.1zM205.81 309h1.2v4h-1.2zM210.48 302h4.1v5h-4.1zM211.88 309h1.2v4h-1.2zM216.55 302h4.1v5h-4.1zM217.95 309h1.2v4h-1.2zM222.62 302h4.1v5h-4.1zM224.02 309h1.2v4h-1.2zM228.69 302h4.1v5h-4.1zM230.09 309h1.2v4h-1.2zM234.76 302h4.1v5h-4.1zM236.16 309h1.2v4h-1.2zM240.83 302h4.1v5h-4.1zM242.23 309h1.2v4h-1.2zM246.9 302h4.1v5h-4.1zM248.3 309h1.2v4h-1.2zM252.97 302h4.1v5h-4.1zM254.37 309h1.2v4h-1.2zM259.04 302h4.1v5h-4.1zM260.44 309h1.2v4h-1.2zM265.11 302h4.1v5h-4.1zM266.51 309h1.2v4h-1.2zM271.18 302h4.1v5h-4.1zM272.58 309h1.2v4h-1.2zM277.25 302h4.1v5h-4.1zM278.65 309h1.2v4h-1.2zM283.32 302h4.1v5h-4.1zM284.72 309h1.2v4h-1.2zM289.39 302h4.1v5h-4.1zM290.79 309h1.2v4h-1.2zM295.46 302h4.1v5h-4.1zM296.86 309h1.2v4h-1.2zM301.53 302h4.1v5h-4.1zM302.93 309h1.2v4h-1.2zM307.6 302h4.1v5h-4.1zM309 309h1.2v4h-1.2zM313.67 302h4.1v5h-4.1zM315.07 309h1.2v4h-1.2zM319.74 302h4.1v5h-4.1zM321.14 309h1.2v4h-1.2zM325.81 302h4.1v5h-4.1zM327.21 309h1.2v4h-1.2zM331.88 302h4.1v5h-4.1zM333.28 309h1.2v4h-1.2zM337.95 302h4.1v5h-4.1zM339.35 309h1.2v4h-1.2zM344.02 302h4.1v5h-4.1zM345.42 309h1.2v4h-1.2zM350.09 302h4.1v5h-4.1zM351.49 309h1.2v4h-1.2zM184.5 300h1.2v1h-1.2zM190.57 300h1.2v1h-1.2zM196.64 300h1.2v1h-1.2zM202.71 300h1.2v1h-1.2zM208.78 300h1.2v1h-1.2zM214.85 300h1.2v1h-1.2zM220.92 300h1.2v1h-1.2zM226.99 300h1.2v1h-1.2zM233.06 300h1.2v1h-1.2zM239.13 300h1.2v1h-1.2zM245.2 300h1.2v1h-1.2zM251.27 300h1.2v1h-1.2zM257.34 300h1.2v1h-1.2zM263.41 300h1.2v1h-1.2zM269.48 300h1.2v1h-1.2zM275.55 300h1.2v1h-1.2zM281.62 300h1.2v1h-1.2zM287.69 300h1.2v1h-1.2zM293.76 300h1.2v1h-1.2zM299.83 300h1.2v1h-1.2zM305.9 300h1.2v1h-1.2zM311.97 300h1.2v1h-1.2zM318.04 300h1.2v1h-1.2zM324.11 300h1.2v1h-1.2zM330.18 300h1.2v1h-1.2zM336.25 300h1.2v1h-1.2zM342.32 300h1.2v1h-1.2zM348.39 300h1.2v1h-1.2zM354.46 300h1.2v1h-1.2z"/>
<path fill="#000" d="M362 300h10.4v10h-10.4z"/>
<path fill="#fff" d="M363 301h8.4v8h-8.4z"/>
<path d="M364.5 308h5v3h2.5v3.2h-7.5z" fill="#fff" stroke="#000" stroke-width="1.2"/>
<path fill="#000" d="M369.5 309h3v2h-3zM376 301h7v1h-7zM376 308h7v1h-7zM164 316h16v7h-16z"/>
<path fill="#fff" d="M165 317h14v5h-14z"/>
<path fill="#000" d="M183 316h30v7h-30z"/>
<path fill="#fff" d="M184 317h28v5h-28z"/>
<path fill="#000" d="M218 316h30v7h-30z"/>
<path fill="#fff" d="M219 317h28v5h-28z"/>
<path fill="#000" d="M256 316h30v7h-30z"/>
<path fill="#fff" d="M257 317h28v5h-28z"/>
<path fill="#000" d="M292 316h30v7h-30z"/>
<path fill="#fff" d="M293 317h28v5h-28z"/>
<path fill="#000" d="M329 316h30v7h-30z"/>
<path fill="#fff" d="M330 317h28v5h-28z"/>
<path fill="#000" d="M362 316h15v7h-15z"/>
<path fill="#fff" d="M363 317h13v5h-13z"/>
<path fill="#000" d="M157 325h8v1h-8zM157 332h8v1h-8zM168 324h10v10h-10z"/>
<path fill="#fff" d="M169 325h8v8h-8z"/>
<path d="M170.5 332h5v6.2h-7.5v-3.2h2.5z" fill="#fff" stroke="#000" stroke-width="1.2"/>
<path fill="#000" d="M168 333h3v2h-3zM182.3 324h175.5v13.8h-175.5z"/>
<path fill="#fff" d="M183.3 326h1v5h-1zM355.8 326h1v5h-1zM186.2 326h4.1v5h-4.1zM187.6 333h1.2v4h-1.2zM192.27 326h4.1v5h-4.1zM193.67 333h1.2v4h-1.2zM198.34 326h4.1v5h-4.1zM199.74 333h1.2v4h-1.2zM204.41 326h4.1v5h-4.1zM205.81 333h1.2v4h-1.2zM210.48 326h4.1v5h-4.1zM211.88 333h1.2v4h-1.2zM216.55 326h4.1v5h-4.1zM217.95 333h1.2v4h-1.2zM222.62 326h4.1v5h-4.1zM224.02 333h1.2v4h-1.2zM228.69 326h4.1v5h-4.1zM230.09 333h1.2v4h-1.2zM234.76 326h4.1v5h-4.1zM236.16 333h1.2v4h-1.2zM240.83 326h4.1v5h-4.1zM242.23 333h1.2v4h-1.2zM246.9 326h4.1v5h-4.1zM248.3 333h1.2v4h-1.2zM252.97 326h4.1v5h-4.1zM254.37 333h1.2v4h-1.2zM259.04 326h4.1v5h-4.1zM260.44 333h1.2v4h-1.2zM265.11 326h4.1v5h-4.1zM266.51 333h1.2v4h-1.2zM271.18 326h4.1v5h-4.1zM272.58 333h1.2v4h-1.2zM277.25 326h4.1v5h-4.1zM278.65 333h1.2v4h-1.2zM283.32 326h4.1v5h-4.1zM284.72 333h1.2v4h-1.2zM289.39 326h4.1v5h-4.1zM290.79 333h1.2v4h-1.2zM295.46 326h4.1v5h-4.1zM296.86 333h1.2v4h-1.2zM301.53 326h4.1v5h-4.1zM302.93 333h1.2v4h-1.2zM307.6 326h4.1v5h-4.1zM309 333h1.2v4h-1.2zM313.67 326h4.1v5h-4.1zM315.07 333h1.2v4h-1.2zM319.74 326h4.1v5h-4.1zM321.14 333h1.2v4h-1.2zM325.81 326h4.1v5h-4.1zM327.21 333h1.2v4h-1.2zM331.88 326h4.1v5h-4.1zM333.28 333h1.2v4h-1.2zM337.95 326h4.1v5h-4.1zM339.35 333h1.2v4h-1.2zM344.02 326h4.1v5h-4.1zM345.42 333h1.2v4h-1.2zM350.09 326h4.1v5h-4.1zM351.49 333h1.2v4h-1.2zM184.5 324h1.2v1h-1.2zM190.57 324h1.2v1h-1.2zM196.64 324h1.2v1h-1.2zM202.71 324h1.2v1h-1.2zM208.78 324h1.2v1h-1.2zM214.85 324h1.2v1h-1.2zM220.92 324h1.2v1h-1.2zM226.99 324h1.2v1h-1.2zM233.06 324h1.2v1h-1.2zM239.13 324h1.2v1h-1.2zM245.2 324h1.2v1h-1.2zM251.27 324h1.2v1h-1.2zM257.34 324h1.2v1h-1.2zM263.41 324h1.2v1h-1.2zM269.48 324h1.2v1h-1.2zM275.55 324h1.2v1h-1.2zM281.62 324h1.2v1h-1.2zM287.69 324h1.2v1h-1.2zM293.76 324h1.2v1h-1.2zM299.83 324h1.2v1h-1.2zM305.9 324h1.2v1h-1.2zM311.97 324h1.2v1h-1.2zM318.04 324h1.2v1h-1.2zM324.11 324h1.2v1h-1.2zM330.18 324h1.2v1h-1.2zM336.25 324h1.2v1h-1.2zM342.32 324h1.2v1h-1.2zM348.39 324h1.2v1h-1.2zM354.46 324h1.2v1h-1.2z"/>
<path fill="#000" d="M362 324h10.4v10h-10.4z"/>
<path fill="#fff" d="M363 325h8.4v8h-8.4z"/>
<path d="M364.5 332h5v3h2.5v3.2h-7.5z" fill="#fff" stroke="#000" stroke-width="1.2"/>
<path fill="#000" d="M369.5 333h3v2h-3zM376 325h7v1h-7zM376 332h7v1h-7zM168 339h208v1h-208zM165 323h3v32.5h-3zM371.5 323h2v32.5h-2zM375 323h1v32.5h-1zM157 342h8v1h-8zM157 349h8v1h-8zM168 341h10v10h-10z"/>
<path fill="#fff" d="M169 342h8v8h-8z"/>
<path d="M170.5 349h5v6.2h-7.5v-3.2h2.5z" fill="#fff" stroke="#000" stroke-width="1.2"/>
<path fill="#000" d="M168 350h3v2h-3zM182.3 341h175.5v13.8h-175.5z"/>
<path fill="#fff" d="M183.3 343h1v5h-1zM355.8 343h1v5h-1zM186.2 343h4.1v5h-4.1zM187.6 350h1.2v4h-1.2zM192.27 343h4.1v5h-4.1zM193.67 350h1.2v4h-1.2zM198.34 343h4.1v5h-4.1zM199.74 350h1.2v4h-1.2zM204.41 343h4.1v5h-4.1zM205.81 350h1.2v4h-1.2zM210.48 343h4.1v5h-4.1zM211.88 350h1.2v4h-1.2zM216.55 343h4.1v5h-4.1zM217.95 350h1.2v4h-1.2zM222.62 343h4.1v5h-4.1zM224.02 350h1.2v4h-1.2zM228.69 343h4.1v5h-4.1zM230.09 350h1.2v4h-1.2zM234.76 343h4.1v5h-4.1zM236.16 350h1.2v4h-1.2zM240.83 343h4.1v5h-4.1zM242.23 350h1.2v4h-1.2zM246.9 343h4.1v5h-4.1zM248.3 350h1.2v4h-1.2zM252.97 343h4.1v5h-4.1zM254.37 350h1.2v4h-1.2zM259.04 343h4.1v5h-4.1zM260.44 350h1.2v4h-1.2zM265.11 343h4.1v5h-4.1zM266.51 350h1.2v4h-1.2zM271.18 343h4.1v5h-4.1zM272.58 350h1.2v4h-1.2zM277.25 343h4.1v5h-4.1zM278.65 350h1.2v4h-1.2zM283.32 343h4.1v5h-4.1zM284.72 350h1.2v4h-1.2zM289.39 343h4.1v5h-4.1zM290.79 350h1.2v4h-1.2zM295.46 343h4.1v5h-4.1zM296.86 350h1.2v4h-1.2zM301.53 343h4.1v5h-4.1zM302.93 350h1.2v4h-1.2zM307.6 343h4.1v5h-4.1zM309 350h1.2v4h-1.2zM313.67 343h4.1v5h-4.1zM315.07 350h1.2v4h-1.2zM319.74 343h4.1v5h-4.1zM321.14 350h1.2v4h-1.2zM325.81 343h4.1v5h-4.1zM327.21 350h1.2v4h-1.2zM331.88 343h4.1v5h-4.1zM333.28 350h1.2v4h-1.2zM337.95 343h4.1v5h-4.1zM339.35 350h1.2v4h-1.2zM344.02 343h4.1v5h-4.1zM345.42 350h1.2v4h-1.2zM350.09 343h4.1v5h-4.1zM351.49 350h1.2v4h-1.2zM184.5 341h1.2v1h-1.2zM190.57 341h1.2v1h-1.2zM196.64 341h1.2v1h-1.2zM202.71 341h1.2v1h-1.2zM208.78 341h1.2v1h-1.2zM214.85 341h1.2v1h-1.2zM220.92 341h1.2v1h-1.2zM226.99 341h1.2v1h-1.2zM233.06 341h1.2v1h-1.2zM239.13 341h1.2v1h-1.2zM245.2 341h1.2v1h-1.2zM251.27 341h1.2v1h-1.2zM257.34 341h1.2v1h-1.2zM263.41 341h1.2v1h-1.2zM269.48 341h1.2v1h-1.2zM275.55 341h1.2v1h-1.2zM281.62 341h1.2v1h-1.2zM287.69 341h1.2v1h-1.2zM293.76 341h1.2v1h-1.2zM299.83 341h1.2v1h-1.2zM305.9 341h1.2v1h-1.2zM311.97 341h1.2v1h-1.2zM318.04 341h1.2v1h-1.2zM324.11 341h1.2v1h-1.2zM330.18 341h1.2v1h-1.2zM336.25 341h1.2v1h-1.2zM342.32 341h1.2v1h-1.2zM348.39 341h1.2v1h-1.2zM354.46 341h1.2v1h-1.2z"/>
<path fill="#000" d="M362 341h10.4v10h-10.4z"/>
<path fill="#fff" d="M363 342h8.4v8h-8.4z"/>
<path d="M364.5 349h5v3h2.5v3.2h-7.5z" fill="#fff" stroke="#000" stroke-width="1.2"/>
<path fill="#000" d="M369.5 350h3v2h-3zM376 342h7v1h-7zM376 349h7v1h-7zM164 357h16v7h-16z"/>
<path fill="#fff" d="M165 358h14v5h-14z"/>
<path fill="#000" d="M183 357h30v7h-30z"/>
<path fill="#fff" d="M184 358h28v5h-28z"/>
<path fill="#000" d="M218 357h30v7h-30z"/>
<path fill="#fff" d="M219 358h28v5h-28z"/>
<path fill="#000" d="M256 357h30v7h-30z"/>
<path fill="#fff" d="M257 358h28v5h-28z"/>
<path fill="#000" d="M292 357h30v7h-30z"/>
<path fill="#fff" d="M293 358h28v5h-28z"/>
<path fill="#000" d="M329 357h30v7h-30z"/>
<path fill="#fff" d="M330 358h28v5h-28z"/>
<path fill="#000" d="M362 357h15v7h-15z"/>
<path fill="#fff" d="M363 358h13v5h-13z"/>
<path fill="#000" d="M157 366h8v1h-8zM157 373h8v1h-8zM168 365h10v10h-10z"/>
<path fill="#fff" d="M169 366h8v8h-8z"/>
<path d="M170.5 373h5v6.2h-7.5v-3.2h2.5z" fill="#fff" stroke="#000" stroke-width="1.2"/>
<path fill="#000" d="M168 374h3v2h-3zM182.3 365h175.5v13.8h-175.5z"/>
<path fill="#fff" d="M183.3 367h1v5h-1zM355.8 367h1v5h-1zM186.2 367h4.1v5h-4.1zM187.6 374h1.2v4h-1.2zM192.27 367h4.1v5h-4.1zM193.67 374h1.2v4h-1.2zM198.34 367h4.1v5h-4.1zM199.74 374h1.2v4h-1.2zM204.41 367h4.1v5h-4.1zM205.81 374h1.2v4h-1.2zM210.48 367h4.1v5h-4.1zM211.88 374h1.2v4h-1.2zM216.55 367h4.1v5h-4.1zM217.95 374h1.2v4h-1.2zM222.62 367h4.1v5h-4.1zM224.02 374h1.2v4h-1.2zM228.69 367h4.1v5h-4.1zM230.09 374h1.2v4h-1.2zM234.76 367h4.1v5h-4.1zM236.16 374h1.2v4h-1.2zM240.83 367h4.1v5h-4.1zM242.23 374h1.2v4h-1.2zM246.9 367h4.1v5h-4.1zM248.3 374h1.2v4h-1.2zM252.97 367h4.1v5h-4.1zM254.37 374h1.2v4h-1.2zM259.04 367h4.1v5h-4.1zM260.44 374h1.2v4h-1.2zM265.11 367h4.1v5h-4.1zM266.51 374h1.2v4h-1.2zM271.18 367h4.1v5h-4.1zM272.58 374h1.2v4h-1.2zM277.25 367h4.1v5h-4.1zM278.65 374h1.2v4h-1.2zM283.32 367h4.1v5h-4.1zM284.72 374h1.2v4h-1.2zM289.39 367h4.1v5h-4.1zM290.79 374h1.2v4h-1.2zM295.46 367h4.1v5h-4.1zM296.86 374h1.2v4h-1.2zM301.53 367h4.1v5h-4.1zM302.93 374h1.2v4h-1.2zM307.6 367h4.1v5h-4.1zM309 374h1.2v4h-1.2zM313.67 367h4.1v5h-4.1zM315.07 374h1.2v4h-1.2zM319.74 367h4.1v5h-4.1zM321.14 374h1.2v4h-1.2zM325.81 367h4.1v5h-4.1zM327.21 374h1.2v4h-1.2zM331.88 367h4.1v5h-4.1zM333.28 374h1.2v4h-1.2zM337.95 367h4.1v5h-4.1zM339.35 374h1.2v4h-1.2zM344.02 367h4.1v5h-4.1zM345.42 374h1.2v4h-1.2zM350.09 367h4.1v5h-4.1zM351.49 374h1.2v4h-1.2zM184.5 365h1.2v1h-1.2zM190.57 365h1.2v1h-1.2zM196.64 365h1.2v1h-1.2zM202.71 365h1.2v1h-1.2zM208.78 365h1.2v1h-1.2zM214.85 365h1.2v1h-1.2zM220.92 365h1.2v1h-1.2zM226.99 365h1.2v1h-1.2zM233.06 365h1.2v1h-1.2zM239.13 365h1.2v1h-1.2zM245.2 365h1.2v1h-1.2zM251.27 365h1.2v1h-1.2zM257.34 365h1.2v1h-1.2zM263.41 365h1.2v1h-1.2zM269.48 365h1.2v1h-1.2zM275.55 365h1.2v1h-1.2zM281.62 365h1.2v1h-1.2zM287.69 365h1.2v1h-1.2zM293.76 365h1.2v1h-1.2zM299.83 365h1.2v1h-1.2zM305.9 365h1.2v1h-1.2zM311.97 365h1.2v1h-1.2zM318.04 365h1.2v1h-1.2zM324.11 365h1.2v1h-1.2zM330.18 365h1.2v1h-1.2zM336.25 365h1.2v1h-1.2zM342.32 365h1.2v1h-1.2zM348.39 365h1.2v1h-1.2zM354.46 365h1.2v1h-1.2z"/>
<path fill="#000" d="M362 365h10.4v10h-10.4z"/>
<path fill="#fff" d="M363 366h8.4v8h-8.4z"/>
<path d="M364.5 373h5v3h2.5v3.2h-7.5z" fill="#fff" stroke="#000" stroke-width="1.2"/>
<path fill="#000" d="M369.5 374h3v2h-3zM376 366h7v1h-7zM376 373h7v1h-7zM168 380h208v1h-208zM165 364h3v33.5h-3zM371.5 364h2v33.5h-2zM375 364h1v33.5h-1zM157 384h8v1h-8zM157 391h8v1h-8zM168 383h10v10h-10z"/>
<path fill="#fff" d="M169 384h8v8h-8z"/>
<path d="M170.5 391h5v6.2h-7.5v-3.2h2.5z" fill="#fff" stroke="#000" stroke-width="1.2"/>
<path fill="#000" d="M168 392h3v2h-3zM182.3 383h175.5v13.8h-175.5z"/>
<path fill="#fff" d="M183.3 385h1v5h-1zM355.8 385h1v5h-1zM186.2 385h4.1v5h-4.1zM187.6 392h1.2v4h-1.2zM192.27 385h4.1v5h-4.1zM193.67 392h1.2v4h-1.2zM198.34 385h4.1v5h-4.1zM199.74 392h1.2v4h-1.2zM204.41 385h4.1v5h-4.1zM205.81 392h1.2v4h-1.2zM210.48 385h4.1v5h-4.1zM211.88 392h1.2v4h-1.2zM216.55 385h4.1v5h-4.1zM217.95 392h1.2v4h-1.2zM222.62 385h4.1v5h-4.1zM224.02 392h1.2v4h-1.2zM228.69 385h4.1v5h-4.1zM230.09 392h1.2v4h-1.2zM234.76 385h4.1v5h-4.1zM236.16 392h1.2v4h-1.2zM240.83 385h4.1v5h-4.1zM242.23 392h1.2v4h-1.2zM246.9 385h4.1v5h-4.1zM248.3 392h1.2v4h-1.2zM252.97 385h4.1v5h-4.1zM254.37 392h1.2v4h-1.2zM259.04 385h4.1v5h-4.1zM260.44 392h1.2v4h-1.2zM265.11 385h4.1v5h-4.1zM266.51 392h1.2v4h-1.2zM271.18 385h4.1v5h-4.1zM272.58 392h1.2v4h-1.2zM277.25 385h4.1v5h-4.1zM278.65 392h1.2v4h-1.2zM283.32 385h4.1v5h-4.1zM284.72 392h1.2v4h-1.2zM289.39 385h4.1v5h-4.1zM290.79 392h1.2v4h-1.2zM295.46 385h4.1v5h-4.1zM296.86 392h1.2v4h-1.2zM301.53 385h4.1v5h-4.1zM302.93 392h1.2v4h-1.2zM307.6 385h4.1v5h-4.1zM309 392h1.2v4h-1.2zM313.67 385h4.1v5h-4.1zM315.07 392h1.2v4h-1.2zM319.74 385h4.1v5h-4.1zM321.14 392h1.2v4h-1.2zM325.81 385h4.1v5h-4.1zM327.21 392h1.2v4h-1.2zM331.88 385h4.1v5h-4.1zM333.28 392h1.2v4h-1.2zM337.95 385h4.1v5h-4.1zM339.35 392h1.2v4h-1.2zM344.02 385h4.1v5h-4.1zM345.42 392h1.2v4h-1.2zM350.09 385h4.1v5h-4.1zM351.49 392h1.2v4h-1.2zM184.5 383h1.2v1h-1.2zM190.57 383h1.2v1h-1.2zM196.64 383h1.2v1h-1.2zM202.71 383h1.2v1h-1.2zM208.78 383h1.2v1h-1.2zM214.85 383h1.2v1h-1.2zM220.92 383h1.2v1h-1.2zM226.99 383h1.2v1h-1.2zM233.06 383h1.2v1h-1.2zM239.13 383h1.2v1h-1.2zM245.2 383h1.2v1h-1.2zM251.27 383h1.2v1h-1.2zM257.34 383h1.2v1h-1.2zM263.41 383h1.2v1h-1.2zM269.48 383h1.2v1h-1.2zM275.55 383h1.2v1h-1.2zM281.62 383h1.2v1h-1.2zM287.69 383h1.2v1h-1.2zM293.76 383h1.2v1h-1.2zM299.83 383h1.2v1h-1.2zM305.9 383h1.2v1h-1.2zM311.97 383h1.2v1h-1.2zM318.04 383h1.2v1h-1.2zM324.11 383h1.2v1h-1.2zM330.18 383h1.2v1h-1.2zM336.25 383h1.2v1h-1.2zM342.32 383h1.2v1h-1.2zM348.39 383h1.2v1h-1.2zM354.46 383h1.2v1h-1.2z"/>
<path fill="#000" d="M362 383h10.4v10h-10.4z"/>
<path fill="#fff" d="M363 384h8.4v8h-8.4z"/>
<path d="M364.5 391h5v3h2.5v3.2h-7.5z" fill="#fff" stroke="#000" stroke-width="1.2"/>
<path fill="#000" d="M369.5 392h3v2h-3zM376 384h7v1h-7zM376 391h7v1h-7zM164 399h16v7h-16z"/>
<path fill="#fff" d="M165 400h14v5h-14z"/>
<path fill="#000" d="M183 399h30v7h-30z"/>
<path fill="#fff" d="M184 400h28v5h-28z"/>
<path fill="#000" d="M218 399h30v7h-30z"/>
<path fill="#fff" d="M219 400h28v5h-28z"/>
<path fill="#000" d="M256 399h30v7h-30z"/>
<path fill="#fff" d="M257 400h28v5h-28z"/>
<path fill="#000" d="M292 399h30v7h-30z"/>
<path fill="#fff" d="M293 400h28v5h-28z"/>
<path fill="#000" d="M329 399h30v7h-30z"/>
<path fill="#fff" d="M330 400h28v5h-28z"/>
<path fill="#000" d="M362 399h15v7h-15z"/>
<path fill="#fff" d="M363 400h13v5h-13z"/>
<path fill="#000" d="M157 408h8v1h-8zM157 415h8v1h-8zM168 407h10v10h-10z"/>
<path fill="#fff" d="M169 408h8v8h-8z"/>
<path d="M170.5 415h5v6.2h-7.5v-3.2h2.5z" fill="#fff" stroke="#000" stroke-width="1.2"/>
<path fill="#000" d="M168 416h3v2h-3zM182.3 407h175.5v13.8h-175.5z"/>
<path fill="#fff" d="M183.3 409h1v5h-1zM355.8 409h1v5h-1zM186.2 409h4.1v5h-4.1zM187.6 416h1.2v4h-1.2zM192.27 409h4.1v5h-4.1zM193.67 416h1.2v4h-1.2zM198.34 409h4.1v5h-4.1zM199.74 416h1.2v4h-1.2zM204.41 409h4.1v5h-4.1zM205.81 416h1.2v4h-1.2zM210.48 409h4.1v5h-4.1zM211.88 416h1.2v4h-1.2zM216.55 409h4.1v5h-4.1zM217.95 416h1.2v4h-1.2zM222.62 409h4.1v5h-4.1zM224.02 416h1.2v4h-1.2zM228.69 409h4.1v5h-4.1zM230.09 416h1.2v4h-1.2zM234.76 409h4.1v5h-4.1zM236.16 416h1.2v4h-1.2zM240.83 409h4.1v5h-4.1zM242.23 416h1.2v4h-1.2zM246.9 409h4.1v5h-4.1zM248.3 416h1.2v4h-1.2zM252.97 409h4.1v5h-4.1zM254.37 416h1.2v4h-1.2zM259.04 409h4.1v5h-4.1zM260.44 416h1.2v4h-1.2zM265.11 409h4.1v5h-4.1zM266.51 416h1.2v4h-1.2zM271.18 409h4.1v5h-4.1zM272.58 416h1.2v4h-1.2zM277.25 409h4.1v5h-4.1zM278.65 416h1.2v4h-1.2zM283.32 409h4.1v5h-4.1zM284.72 416h1.2v4h-1.2zM289.39 409h4.1v5h-4.1zM290.79 416h1.2v4h-1.2zM295.46 409h4.1v5h-4.1zM296.86 416h1.2v4h-1.2zM301.53 409h4.1v5h-4.1zM302.93 416h1.2v4h-1.2zM307.6 409h4.1v5h-4.1zM309 416h1.2v4h-1.2zM313.67 409h4.1v5h-4.1zM315.07 416h1.2v4h-1.2zM319.74 409h4.1v5h-4.1zM321.14 416h1.2v4h-1.2zM325.81 409h4.1v5h-4.1zM327.21 416h1.2v4h-1.2zM331.88 409h4.1v5h-4.1zM333.28 416h1.2v4h-1.2zM337.95 409h4.1v5h-4.1zM339.35 416h1.2v4h-1.2zM344.02 409h4.1v5h-4.1zM345.42 416h1.2v4h-1.2zM350.09 409h4.1v5h-4.1zM351.49 416h1.2v4h-1.2zM184.5 407h1.2v1h-1.2zM190.57 407h1.2v1h-1.2zM196.64 407h1.2v1h-1.2zM202.71 407h1.2v1h-1.2zM208.78 407h1.2v1h-1.2zM214.85 407h1.2v1h-1.2zM220.92 407h1.2v1h-1.2zM226.99 407h1.2v1h-1.2zM233.06 407h1.2v1h-1.2zM239.13 407h1.2v1h-1.2zM245.2 407h1.2v1h-1.2zM251.27 407h1.2v1h-1.2zM257.34 407h1.2v1h-1.2zM263.41 407h1.2v1h-1.2zM269.48 407h1.2v1h-1.2zM275.55 407h1.2v1h-1.2zM281.62 407h1.2v1h-1.2zM287.69 407h1.2v1h-1.2zM293.76 407h1.2v1h-1.2zM299.83 407h1.2v1h-1.2zM305.9 407h1.2v1h-1.2zM311.97 407h1.2v1h-1.2zM318.04 407h1.2v1h-1.2zM324.11 407h1.2v1h-1.2zM330.18 407h1.2v1h-1.2zM336.25 407h1.2v1h-1.2zM342.32 407h1.2v1h-1.2zM348.39 407h1.2v1h-1.2zM354.46 407h1.2v1h-1.2z"/>
<path fill="#000" d="M362 407h10.4v10h-10.4z"/>
<path fill="#fff" d="M363 408h8.4v8h-8.4z"/>
<path d="M364.5 415h5v3h2.5v3.2h-7.5z" fill="#fff" stroke="#000" stroke-width="1.2"/>
<path fill="#000" d="M369.5 416h3v2h-3zM376 408h7v1h-7zM376 415h7v1h-7zM165 406h3v17h-3zM371.5 406h2v17h-2zM375 406h1v17h-1zM433 384h226v167h-226z"/>
<path fill="#fff" d="M434 385h224v165h-224z"/>
<path fill="#000" d="M441 384h3v16.5h-3zM647.7 384h3.5v16.5h-3.5zM433 387h8v1h-8zM433 394h8v1h-8zM444 386h10v10h-10z"/>
<path fill="#fff" d="M445 387h8v8h-8z"/>
<path d="M446.5 394h5v6.2h-7.5v-3.2h2.5z" fill="#fff" stroke="#000" stroke-width="1.2"/>
<path fill="#000" d="M444 395h3v2h-3zM458.3 386h175.5v13.8h-175.5z"/>
<path fill="#fff" d="M459.3 388h1v5h-1zM631.8 388h1v5h-1zM462.2 388h4.1v5h-4.1zM463.6 395h1.2v4h-1.2zM468.27 388h4.1v5h-4.1zM469.67 395h1.2v4h-1.2zM474.34 388h4.1v5h-4.1zM475.74 395h1.2v4h-1.2zM480.41 388h4.1v5h-4.1zM481.81 395h1.2v4h-1.2zM486.48 388h4.1v5h-4.1zM487.88 395h1.2v4h-1.2zM492.55 388h4.1v5h-4.1zM493.95 395h1.2v4h-1.2zM498.62 388h4.1v5h-4.1zM500.02 395h1.2v4h-1.2zM504.69 388h4.1v5h-4.1zM506.09 395h1.2v4h-1.2zM510.76 388h4.1v5h-4.1zM512.16 395h1.2v4h-1.2zM516.83 388h4.1v5h-4.1zM518.23 395h1.2v4h-1.2zM522.9 388h4.1v5h-4.1zM524.3 395h1.2v4h-1.2zM528.97 388h4.1v5h-4.1zM530.37 395h1.2v4h-1.2zM535.04 388h4.1v5h-4.1zM536.44 395h1.2v4h-1.2zM541.11 388h4.1v5h-4.1zM542.51 395h1.2v4h-1.2zM547.18 388h4.1v5h-4.1zM548.58 395h1.2v4h-1.2zM553.25 388h4.1v5h-4.1zM554.65 395h1.2v4h-1.2zM559.32 388h4.1v5h-4.1zM560.72 395h1.2v4h-1.2zM565.39 388h4.1v5h-4.1zM566.79 395h1.2v4h-1.2zM571.46 388h4.1v5h-4.1zM572.86 395h1.2v4h-1.2zM577.53 388h4.1v5h-4.1zM578.93 395h1.2v4h-1.2zM583.6 388h4.1v5h-4.1zM585 395h1.2v4h-1.2zM589.67 388h4.1v5h-4.1zM591.07 395h1.2v4h-1.2zM595.74 388h4.1v5h-4.1zM597.14 395h1.2v4h-1.2zM601.81 388h4.1v5h-4.1zM603.21 395h1.2v4h-1.2zM607.88 388h4.1v5h-4.1zM609.28 395h1.2v4h-1.2zM613.95 388h4.1v5h-4.1zM615.35 395h1.2v4h-1.2zM620.02 388h4.1v5h-4.1zM621.42 395h1.2v4h-1.2zM626.09 388h4.1v5h-4.1zM627.49 395h1.2v4h-1.2zM460.5 386h1.2v1h-1.2zM466.57 386h1.2v1h-1.2zM472.64 386h1.2v1h-1.2zM478.71 386h1.2v1h-1.2zM484.78 386h1.2v1h-1.2zM490.85 386h1.2v1h-1.2zM496.92 386h1.2v1h-1.2zM502.99 386h1.2v1h-1.2zM509.06 386h1.2v1h-1.2zM515.13 386h1.2v1h-1.2zM521.2 386h1.2v1h-1.2zM527.27 386h1.2v1h-1.2zM533.34 386h1.2v1h-1.2zM539.41 386h1.2v1h-1.2zM545.48 386h1.2v1h-1.2zM551.55 386h1.2v1h-1.2zM557.62 386h1.2v1h-1.2zM563.69 386h1.2v1h-1.2zM569.76 386h1.2v1h-1.2zM575.83 386h1.2v1h-1.2zM581.9 386h1.2v1h-1.2zM587.97 386h1.2v1h-1.2zM594.04 386h1.2v1h-1.2zM600.11 386h1.2v1h-1.2zM606.18 386h1.2v1h-1.2zM612.25 386h1.2v1h-1.2zM618.32 386h1.2v1h-1.2zM624.39 386h1.2v1h-1.2zM630.46 386h1.2v1h-1.2z"/>
<path fill="#000" d="M638 386h10.4v10h-10.4z"/>
<path fill="#fff" d="M639 387h8.4v8h-8.4z"/>
<path d="M640.5 394h5v3h2.5v3.2h-7.5z" fill="#fff" stroke="#000" stroke-width="1.2"/>
<path fill="#000" d="M645.5 395h3v2h-3zM652 387h7v1h-7zM652 394h7v1h-7zM440 402h16v7h-16z"/>
<path fill="#fff" d="M441 403h14v5h-14z"/>
<path fill="#000" d="M459 402h30v7h-30z"/>
<path fill="#fff" d="M460 403h28v5h-28z"/>
<path fill="#000" d="M494 402h30v7h-30z"/>
<path fill="#fff" d="M495 403h28v5h-28z"/>
<path fill="#000" d="M532 402h30v7h-30z"/>
<path fill="#fff" d="M533 403h28v5h-28z"/>
<path fill="#000" d="M568 402h30v7h-30z"/>
<path fill="#fff" d="M569 403h28v5h-28z"/>
<path fill="#000" d="M605 402h30v7h-30z"/>
<path fill="#fff" d="M606 403h28v5h-28z"/>
<path fill="#000" d="M638 402h15v7h-15z"/>
<path fill="#fff" d="M639 403h13v5h-13z"/>
<path fill="#000" d="M433 411h8v1h-8zM433 418h8v1h-8zM444 410h10v10h-10z"/>
<path fill="#fff" d="M445 411h8v8h-8z"/>
<path d="M446.5 418h5v6.2h-7.5v-3.2h2.5z" fill="#fff" stroke="#000" stroke-width="1.2"/>
<path fill="#000" d="M444 419h3v2h-3zM458.3 410h175.5v13.8h-175.5z"/>
<path fill="#fff" d="M459.3 412h1v5h-1zM631.8 412h1v5h-1zM462.2 412h4.1v5h-4.1zM463.6 419h1.2v4h-1.2zM468.27 412h4.1v5h-4.1zM469.67 419h1.2v4h-1.2zM474.34 412h4.1v5h-4.1zM475.74 419h1.2v4h-1.2zM480.41 412h4.1v5h-4.1zM481.81 419h1.2v4h-1.2zM486.48 412h4.1v5h-4.1zM487.88 419h1.2v4h-1.2zM492.55 412h4.1v5h-4.1zM493.95 419h1.2v4h-1.2zM498.62 412h4.1v5h-4.1zM500.02 419h1.2v4h-1.2zM504.69 412h4.1v5h-4.1zM506.09 419h1.2v4h-1.2zM510.76 412h4.1v5h-4.1zM512.16 419h1.2v4h-1.2zM516.83 412h4.1v5h-4.1zM518.23 419h1.2v4h-1.2zM522.9 412h4.1v5h-4.1zM524.3 419h1.2v4h-1.2zM528.97 412h4.1v5h-4.1zM530.37 419h1.2v4h-1.2zM535.04 412h4.1v5h-4.1zM536.44 419h1.2v4h-1.2zM541.11 412h4.1v5h-4.1zM542.51 419h1.2v4h-1.2zM547.18 412h4.1v5h-4.1zM548.58 419h1.2v4h-1.2zM553.25 412h4.1v5h-4.1zM554.65 419h1.2v4h-1.2zM559.32 412h4.1v5h-4.1zM560.72 419h1.2v4h-1.2zM565.39 412h4.1v5h-4.1zM566.79 419h1.2v4h-1.2zM571.46 412h4.1v5h-4.1zM572.86 419h1.2v4h-1.2zM577.53 412h4.1v5h-4.1zM578.93 419h1.2v4h-1.2zM583.6 412h4.1v5h-4.1zM585 419h1.2v4h-1.2zM589.67 412h4.1v5h-4.1zM591.07 419h1.2v4h-1.2zM595.74 412h4.1v5h-4.1zM597.14 419h1.2v4h-1.2zM601.81 412h4.1v5h-4.1zM603.21 419h1.2v4h-1.2zM607.88 412h4.1v5h-4.1zM609.28 419h1.2v4h-1.2zM613.95 412h4.1v5h-4.1zM615.35 419h1.2v4h-1.2zM620.02 412h4.1v5h-4.1zM621.42 419h1.2v4h-1.2zM626.09 412h4.1v5h-4.1zM627.49 419h1.2v4h-1.2zM460.5 410h1.2v1h-1.2zM466.57 410h1.2v1h-1.2zM472.64 410h1.2v1h-1.2zM478.71 410h1.2v1h-1.2zM484.78 410h1.2v1h-1.2zM490.85 410h1.2v1h-1.2zM496.92 410h1.2v1h-1.2zM502.99 410h1.2v1h-1.2zM509.06 410h1.2v1h-1.2zM515.13 410h1.2v1h-1.2zM521.2 410h1.2v1h-1.2zM527.27 410h1.2v1h-1.2zM533.34 410h1.2v1h-1.2zM539.41 410h1.2v1h-1.2zM545.48 410h1.2v1h-1.2zM551.55 410h1.2v1h-1.2zM557.62 410h1.2v1h-1.2zM563.69 410h1.2v1h-1.2zM569.76 410h1.2v1h-1.2zM575.83 410h1.2v1h-1.2zM581.9 410h1.2v1h-1.2zM587.97 410h1.2v1h-1.2zM594.04 410h1.2v1h-1.2zM600.11 410h1.2v1h-1.2zM606.18 410h1.2v1h-1.2zM612.25 410h1.2v1h-1.2zM618.32 410h1.2v1h-1.2zM624.39 410h1.2v1h-1.2zM630.46 410h1.2v1h-1.2z"/>
<path fill="#000" d="M638 410h10.4v10h-10.4z"/>
<path fill="#fff" d="M639 411h8.4v8h-8.4z"/>
<path d="M640.5 418h5v3h2.5v3.2h-7.5z" fill="#fff" stroke="#000" stroke-width="1.2"/>
<path fill="#000" d="M645.5 419h3v2h-3zM652 411h7v1h-7zM652 418h7v1h-7zM444 425h208v1h-208zM441 409h3v33.5h-3zM647.7 409h3.5v33.5h-3.5zM433 429h8v1h-8zM433 436h8v1h-8zM444 428h10v10h-10z"/>
<path fill="#fff" d="M445 429h8v8h-8z"/>
<path d="M446.5 436h5v6.2h-7.5v-3.2h2.5z" fill="#fff" stroke="#000" stroke-width="1.2"/>
<path fill="#000" d="M444 437h3v2h-3zM458.3 428h175.5v13.8h-175.5z"/>
<path fill="#fff" d="M459.3 430h1v5h-1zM631.8 430h1v5h-1zM462.2 430h4.1v5h-4.1zM463.6 437h1.2v4h-1.2zM468.27 430h4.1v5h-4.1zM469.67 437h1.2v4h-1.2zM474.34 430h4.1v5h-4.1zM475.74 437h1.2v4h-1.2zM480.41 430h4.1v5h-4.1zM481.81 437h1.2v4h-1.2zM486.48 430h4.1v5h-4.1zM487.88 437h1.2v4h-1.2zM492.55 430h4.1v5h-4.1zM493.95 437h1.2v4h-1.2zM498.62 430h4.1v5h-4.1zM500.02 437h1.2v4h-1.2zM504.69 430h4.1v5h-4.1zM506.09 437h1.2v4h-1.2zM510.76 430h4.1v5h-4.1zM512.16 437h1.2v4h-1.2zM516.83 430h4.1v5h-4.1zM518.23 437h1.2v4h-1.2zM522.9 430h4.1v5h-4.1zM524.3 437h1.2v4h-1.2zM528.97 430h4.1v5h-4.1zM530.37 437h1.2v4h-1.2zM535.04 430h4.1v5h-4.1zM536.44 437h1.2v4h-1.2zM541.11 430h4.1v5h-4.1zM542.51 437h1.2v4h-1.2zM547.18 430h4.1v5h-4.1zM548.58 437h1.2v4h-1.2zM553.25 430h4.1v5h-4.1zM554.65 437h1.2v4h-1.2zM559.32 430h4.1v5h-4.1zM560.72 437h1.2v4h-1.2zM565.39 430h4.1v5h-4.1zM566.79 437h1.2v4h-1.2zM571.46 430h4.1v5h-4.1zM572.86 437h1.2v4h-1.2zM577.53 430h4.1v5h-4.1zM578.93 437h1.2v4h-1.2zM583.6 430h4.1v5h-4.1zM585 437h1.2v4h-1.2zM589.67 430h4.1v5h-4.1zM591.07 437h1.2v4h-1.2zM595.74 430h4.1v5h-4.1zM597.14 437h1.2v4h-1.2zM601.81 430h4.1v5h-4.1zM603.21 437h1.2v4h-1.2zM607.88 430h4.1v5h-4.1zM609.28 437h1.2v4h-1.2zM613.95 430h4.1v5h-4.1zM615.35 437h1.2v4h-1.2zM620.02 430h4.1v5h-4.1zM621.42 437h1.2v4h-1.2zM626.09 430h4.1v5h-4.1zM627.49 437h1.2v4h-1.2zM460.5 428h1.2v1h-1.2zM466.57 428h1.2v1h-1.2zM472.64 428h1.2v1h-1.2zM478.71 428h1.2v1h-1.2zM484.78 428h1.2v1h-1.2zM490.85 428h1.2v1h-1.2zM496.92 428h1.2v1h-1.2zM502.99 428h1.2v1h-1.2zM509.06 428h1.2v1h-1.2zM515.13 428h1.2v1h-1.2zM521.2 428h1.2v1h-1.2zM527.27 428h1.2v1h-1.2zM533.34 428h1.2v1h-1.2zM539.41 428h1.2v1h-1.2zM545.48 428h1.2v1h-1.2zM551.55 428h1.2v1h-1.2zM557.62 428h1.2v1h-1.2zM563.69 428h1.2v1h-1.2zM569.76 428h1.2v1h-1.2zM575.83 428h1.2v1h-1.2zM581.9 428h1.2v1h-1.2zM587.97 428h1.2v1h-1.2zM594.04 428h1.2v1h-1.2zM600.11 428h1.2v1h-1.2zM606.18 428h1.2v1h-1.2zM612.25 428h1.2v1h-1.2zM618.32 428h1.2v1h-1.2zM624.39 428h1.2v1h-1.2zM630.46 428h1.2v1h-1.2z"/>
<path fill="#000" d="M638 428h10.4v10h-10.4z"/>
<path fill="#fff" d="M639 429h8.4v8h-8.4z"/>
<path d="M640.5 436h5v3h2.5v3.2h-7.5z" fill="#fff" stroke="#000" stroke-width="1.2"/>
<path fill="#000" d="M645.5 437h3v2h-3zM652 429h7v1h-7zM652 436h7v1h-7zM440 444h16v7h-16z"/>
<path fill="#fff" d="M441 445h14v5h-14z"/>
<path fill="#000" d="M459 444h30v7h-30z"/>
<path fill="#fff" d="M460 445h28v5h-28z"/>
<path fill="#000" d="M494 444h30v7h-30z"/>
<path fill="#fff" d="M495 445h28v5h-28z"/>
<path fill="#000" d="M532 444h30v7h-30z"/>
<path fill="#fff" d="M533 445h28v5h-28z"/>
<path fill="#000" d="M568 444h30v7h-30z"/>
<path fill="#fff" d="M569 445h28v5h-28z"/>
<path fill="#000" d="M605 444h30v7h-30z"/>
<path fill="#fff" d="M606 445h28v5h-28z"/>
<path fill="#000" d="M638 444h15v7h-15z"/>
<path fill="#fff" d="M639 445h13v5h-13z"/>
<path fill="#000" d="M433 453h8v1h-8zM433 460h8v1h-8zM444 452h10v10h-10z"/>
<path fill="#fff" d="M445 453h8v8h-8z"/>
<path d="M446.5 460h5v6.2h-7.5v-3.2h2.5z" fill="#fff" stroke="#000" stroke-width="1.2"/>
<path fill="#000" d="M444 461h3v2h-3zM458.3 452h175.5v13.8h-175.5z"/>
<path fill="#fff" d="M459.3 454h1v5h-1zM631.8 454h1v5h-1zM462.2 454h4.1v5h-4.1zM463.6 461h1.2v4h-1.2zM468.27 454h4.1v5h-4.1zM469.67 461h1.2v4h-1.2zM474.34 454h4.1v5h-4.1zM475.74 461h1.2v4h-1.2zM480.41 454h4.1v5h-4.1zM481.81 461h1.2v4h-1.2zM486.48 454h4.1v5h-4.1zM487.88 461h1.2v4h-1.2zM492.55 454h4.1v5h-4.1zM493.95 461h1.2v4h-1.2zM498.62 454h4.1v5h-4.1zM500.02 461h1.2v4h-1.2zM504.69 454h4.1v5h-4.1zM506.09 461h1.2v4h-1.2zM510.76 454h4.1v5h-4.1zM512.16 461h1.2v4h-1.2zM516.83 454h4.1v5h-4.1zM518.23 461h1.2v4h-1.2zM522.9 454h4.1v5h-4.1zM524.3 461h1.2v4h-1.2zM528.97 454h4.1v5h-4.1zM530.37 461h1.2v4h-1.2zM535.04 454h4.1v5h-4.1zM536.44 461h1.2v4h-1.2zM541.11 454h4.1v5h-4.1zM542.51 461h1.2v4h-1.2zM547.18 454h4.1v5h-4.1zM548.58 461h1.2v4h-1.2zM553.25 454h4.1v5h-4.1zM554.65 461h1.2v4h-1.2zM559.32 454h4.1v5h-4.1zM560.72 461h1.2v4h-1.2zM565.39 454h4.1v5h-4.1zM566.79 461h1.2v4h-1.2zM571.46 454h4.1v5h-4.1zM572.86 461h1.2v4h-1.2zM577.53 454h4.1v5h-4.1zM578.93 461h1.2v4h-1.2zM583.6 454h4.1v5h-4.1zM585 461h1.2v4h-1.2zM589.67 454h4.1v5h-4.1zM591.07 461h1.2v4h-1.2zM595.74 454h4.1v5h-4.1zM597.14 461h1.2v4h-1.2zM601.81 454h4.1v5h-4.1zM603.21 461h1.2v4h-1.2zM607.88 454h4.1v5h-4.1zM609.28 461h1.2v4h-1.2zM613.95 454h4.1v5h-4.1zM615.35 461h1.2v4h-1.2zM620.02 454h4.1v5h-4.1zM621.42 461h1.2v4h-1.2zM626.09 454h4.1v5h-4.1zM627.49 461h1.2v4h-1.2zM460.5 452h1.2v1h-1.2zM466.57 452h1.2v1h-1.2zM472.64 452h1.2v1h-1.2zM478.71 452h1.2v1h-1.2zM484.78 452h1.2v1h-1.2zM490.85 452h1.2v1h-1.2zM496.92 452h1.2v1h-1.2zM502.99 452h1.2v1h-1.2zM509.06 452h1.2v1h-1.2zM515.13 452h1.2v1h-1.2zM521.2 452h1.2v1h-1.2zM527.27 452h1.2v1h-1.2zM533.34 452h1.2v1h-1.2zM539.41 452h1.2v1h-1.2zM545.48 452h1.2v1h-1.2zM551.55 452h1.2v1h-1.2zM557.62 452h1.2v1h-1.2zM563.69 452h1.2v1h-1.2zM569.76 452h1.2v1h-1.2zM575.83 452h1.2v1h-1.2zM581.9 452h1.2v1h-1.2zM587.97 452h1.2v1h-1.2zM594.04 452h1.2v1h-1.2zM600.11 452h1.2v1h-1.2zM606.18 452h1.2v1h-1.2zM612.25 452h1.2v1h-1.2zM618.32 452h1.2v1h-1.2zM624.39 452h1.2v1h-1.2zM630.46 452h1.2v1h-1.2z"/>
<path fill="#000" d="M638 452h10.4v10h-10.4z"/>
<path fill="#fff" d="M639 453h8.4v8h-8.4z"/>
<path d="M640.5 460h5v3h2.5v3.2h-7.5z" fill="#fff" stroke="#000" stroke-width="1.2"/>
<path fill="#000" d="M645.5 461h3v2h-3zM652 453h7v1h-7zM652 460h7v1h-7zM444 467h208v1h-208zM441 451h3v32.5h-3zM647.7 451h3.5v32.5h-3.5zM433 470h8v1h-8zM433 477h8v1h-8zM444 469h10v10h-10z"/>
<path fill="#fff" d="M445 470h8v8h-8z"/>
<path d="M446.5 477h5v6.2h-7.5v-3.2h2.5z" fill="#fff" stroke="#000" stroke-width="1.2"/>
<path fill="#000" d="M444 478h3v2h-3zM458.3 469h175.5v13.8h-175.5z"/>
<path fill="#fff" d="M459.3 471h1v5h-1zM631.8 471h1v5h-1zM462.2 471h4.1v5h-4.1zM463.6 478h1.2v4h-1.2zM468.27 471h4.1v5h-4.1zM469.67 478h1.2v4h-1.2zM474.34 471h4.1v5h-4.1zM475.74 478h1.2v4h-1.2zM480.41 471h4.1v5h-4.1zM481.81 478h1.2v4h-1.2zM486.48 471h4.1v5h-4.1zM487.88 478h1.2v4h-1.2zM492.55 471h4.1v5h-4.1zM493.95 478h1.2v4h-1.2zM498.62 471h4.1v5h-4.1zM500.02 478h1.2v4h-1.2zM504.69 471h4.1v5h-4.1zM506.09 478h1.2v4h-1.2zM510.76 471h4.1v5h-4.1zM512.16 478h1.2v4h-1.2zM516.83 471h4.1v5h-4.1zM518.23 478h1.2v4h-1.2zM522.9 471h4.1v5h-4.1zM524.3 478h1.2v4h-1.2zM528.97 471h4.1v5h-4.1zM530.37 478h1.2v4h-1.2zM535.04 471h4.1v5h-4.1zM536.44 478h1.2v4h-1.2zM541.11 471h4.1v5h-4.1zM542.51 478h1.2v4h-1.2zM547.18 471h4.1v5h-4.1zM548.58 478h1.2v4h-1.2zM553.25 471h4.1v5h-4.1zM554.65 478h1.2v4h-1.2zM559.32 471h4.1v5h-4.1zM560.72 478h1.2v4h-1.2zM565.39 471h4.1v5h-4.1zM566.79 478h1.2v4h-1.2zM571.46 471h4.1v5h-4.1zM572.86 478h1.2v4h-1.2zM577.53 471h4.1v5h-4.1zM578.93 478h1.2v4h-1.2zM583.6 471h4.1v5h-4.1zM585 478h1.2v4h-1.2zM589.67 471h4.1v5h-4.1zM591.07 478h1.2v4h-1.2zM595.74 471h4.1v5h-4.1zM597.14 478h1.2v4h-1.2zM601.81 471h4.1v5h-4.1zM603.21 478h1.2v4h-1.2zM607.88 471h4.1v5h-4.1zM609.28 478h1.2v4h-1.2zM613.95 471h4.1v5h-4.1zM615.35 478h1.2v4h-1.2zM620.02 471h4.1v5h-4.1zM621.42 478h1.2v4h-1.2zM626.09 471h4.1v5h-4.1zM627.49 478h1.2v4h-1.2zM460.5 469h1.2v1h-1.2zM466.57 469h1.2v1h-1.2zM472.64 469h1.2v1h-1.2zM478.71 469h1.2v1h-1.2zM484.78 469h1.2v1h-1.2zM490.85 469h1.2v1h-1.2zM496.92 469h1.2v1h-1.2zM502.99 469h1.2v1h-1.2zM509.06 469h1.2v1h-1.2zM515.13 469h1.2v1h-1.2zM521.2 469h1.2v1h-1.2zM527.27 469h1.2v1h-1.2zM533.34 469h1.2v1h-1.2zM539.41 469h1.2v1h-1.2zM545.48 469h1.2v1h-1.2zM551.55 469h1.2v1h-1.2zM557.62 469h1.2v1h-1.2zM563.69 469h1.2v1h-1.2zM569.76 469h1.2v1h-1.2zM575.83 469h1.2v1h-1.2zM581.9 469h1.2v1h-1.2zM587.97 469h1.2v1h-1.2zM594.04 469h1.2v1h-1.2zM600.11 469h1.2v1h-1.2zM606.18 469h1.2v1h-1.2zM612.25 469h1.2v1h-1.2zM618.32 469h1.2v1h-1.2zM624.39 469h1.2v1h-1.2zM630.46 469h1.2v1h-1.2z"/>
<path fill="#000" d="M638 469h10.4v10h-10.4z"/>
<path fill="#fff" d="M639 470h8.4v8h-8.4z"/>
<path d="M640.5 477h5v3h2.5v3.2h-7.5z" fill="#fff" stroke="#000" stroke-width="1.2"/>
<path fill="#000" d="M645.5 478h3v2h-3zM652 470h7v1h-7zM652 477h7v1h-7zM440 485h16v7h-16z"/>
<path fill="#fff" d="M441 486h14v5h-14z"/>
<path fill="#000" d="M459 485h30v7h-30z"/>
<path fill="#fff" d="M460 486h28v5h-28z"/>
<path fill="#000" d="M494 485h30v7h-30z"/>
<path fill="#fff" d="M495 486h28v5h-28z"/>
<path fill="#000" d="M532 485h30v7h-30z"/>
<path fill="#fff" d="M533 486h28v5h-28z"/>
<path fill="#000" d="M568 485h30v7h-30z"/>
<path fill="#fff" d="M569 486h28v5h-28z"/>
<path fill="#000" d="M605 485h30v7h-30z"/>
<path fill="#fff" d="M606 486h28v5h-28z"/>
<path fill="#000" d="M638 485h15v7h-15z"/>
<path fill="#fff" d="M639 486h13v5h-13z"/>
<path fill="#000" d="M433 494h8v1h-8zM433 501h8v1h-8zM444 493h10v10h-10z"/>
<path fill="#fff" d="M445 494h8v8h-8z"/>
<path d="M446.5 501h5v6.2h-7.5v-3.2h2.5z" fill="#fff" stroke="#000" stroke-width="1.2"/>
<path fill="#000" d="M444 502h3v2h-3zM458.3 493h175.5v13.8h-175.5z"/>
<path fill="#fff" d="M459.3 495h1v5h-1zM631.8 495h1v5h-1zM462.2 495h4.1v5h-4.1zM463.6 502h1.2v4h-1.2zM468.27 495h4.1v5h-4.1zM469.67 502h1.2v4h-1.2zM474.34 495h4.1v5h-4.1zM475.74 502h1.2v4h-1.2zM480.41 495h4.1v5h-4.1zM481.81 502h1.2v4h-1.2zM486.48 495h4.1v5h-4.1zM487.88 502h1.2v4h-1.2zM492.55 495h4.1v5h-4.1zM493.95 502h1.2v4h-1.2zM498.62 495h4.1v5h-4.1zM500.02 502h1.2v4h-1.2zM504.69 495h4.1v5h-4.1zM506.09 502h1.2v4h-1.2zM510.76 495h4.1v5h-4.1zM512.16 502h1.2v4h-1.2zM516.83 495h4.1v5h-4.1zM518.23 502h1.2v4h-1.2zM522.9 495h4.1v5h-4.1zM524.3 502h1.2v4h-1.2zM528.97 495h4.1v5h-4.1zM530.37 502h1.2v4h-1.2zM535.04 495h4.1v5h-4.1zM536.44 502h1.2v4h-1.2zM541.11 495h4.1v5h-4.1zM542.51 502h1.2v4h-1.2zM547.18 495h4.1v5h-4.1zM548.58 502h1.2v4h-1.2zM553.25 495h4.1v5h-4.1zM554.65 502h1.2v4h-1.2zM559.32 495h4.1v5h-4.1zM560.72 502h1.2v4h-1.2zM565.39 495h4.1v5h-4.1zM566.79 502h1.2v4h-1.2zM571.46 495h4.1v5h-4.1zM572.86 502h1.2v4h-1.2zM577.53 495h4.1v5h-4.1zM578.93 502h1.2v4h-1.2zM583.6 495h4.1v5h-4.1zM585 502h1.2v4h-1.2zM589.67 495h4.1v5h-4.1zM591.07 502h1.2v4h-1.2zM595.74 495h4.1v5h-4.1zM597.14 502h1.2v4h-1.2zM601.81 495h4.1v5h-4.1zM603.21 502h1.2v4h-1.2zM607.88 495h4.1v5h-4.1zM609.28 502h1.2v4h-1.2zM613.95 495h4.1v5h-4.1zM615.35 502h1.2v4h-1.2zM620.02 495h4.1v5h-4.1zM621.42 502h1.2v4h-1.2zM626.09 495h4.1v5h-4.1zM627.49 502h1.2v4h-1.2zM460.5 493h1.2v1h-1.2zM466.57 493h1.2v1h-1.2zM472.64 493h1.2v1h-1.2zM478.71 493h1.2v1h-1.2zM484.78 493h1.2v1h-1.2zM490.85 493h1.2v1h-1.2zM496.92 493h1.2v1h-1.2zM502.99 493h1.2v1h-1.2zM509.06 493h1.2v1h-1.2zM515.13 493h1.2v1h-1.2zM521.2 493h1.2v1h-1.2zM527.27 493h1.2v1h-1.2zM533.34 493h1.2v1h-1.2zM539.41 493h1.2v1h-1.2zM545.48 493h1.2v1h-1.2zM551.55 493h1.2v1h-1.2zM557.62 493h1.2v1h-1.2zM563.69 493h1.2v1h-1.2zM569.76 493h1.2v1h-1.2zM575.83 493h1.2v1h-1.2zM581.9 493h1.2v1h-1.2zM587.97 493h1.2v1h-1.2zM594.04 493h1.2v1h-1.2zM600.11 493h1.2v1h-1.2zM606.18 493h1.2v1h-1.2zM612.25 493h1.2v1h-1.2zM618.32 493h1.2v1h-1.2zM624.39 493h1.2v1h-1.2zM630.46 493h1.2v1h-1.2z"/>
<path fill="#000" d="M638 493h10.4v10h-10.4z"/>
<path fill="#fff" d="M639 494h8.4v8h-8.4z"/>
<path d="M640.5 501h5v3h2.5v3.2h-7.5z" fill="#fff" stroke="#000" stroke-width="1.2"/>
<path fill="#000" d="M645.5 502h3v2h-3zM652 494h7v1h-7zM652 501h7v1h-7zM444 508h208v1h-208zM441 492h3v33.5h-3zM647.7 492h3.5v33.5h-3.5zM433 512h8v1h-8zM433 519h8v1h-8zM444 511h10v10h-10z"/>
<path fill="#fff" d="M445 512h8v8h-8z"/>
<path d="M446.5 519h5v6.2h-7.5v-3.2h2.5z" fill="#fff" stroke="#000" stroke-width="1.2"/>
<path fill="#000" d="M444 520h3v2h-3zM458.3 511h175.5v13.8h-175.5z"/>
<path fill="#fff" d="M459.3 513h1v5h-1zM631.8 513h1v5h-1zM462.2 513h4.1v5h-4.1zM463.6 520h1.2v4h-1.2zM468.27 513h4.1v5h-4.1zM469.67 520h1.2v4h-1.2zM474.34 513h4.1v5h-4.1zM475.74 520h1.2v4h-1.2zM480.41 513h4.1v5h-4.1zM481.81 520h1.2v4h-1.2zM486.48 513h4.1v5h-4.1zM487.88 520h1.2v4h-1.2zM492.55 513h4.1v5h-4.1zM493.95 520h1.2v4h-1.2zM498.62 513h4.1v5h-4.1zM500.02 520h1.2v4h-1.2zM504.69 513h4.1v5h-4.1zM506.09 520h1.2v4h-1.2zM510.76 513h4.1v5h-4.1zM512.16 520h1.2v4h-1.2zM516.83 513h4.1v5h-4.1zM518.23 520h1.2v4h-1.2zM522.9 513h4.1v5h-4.1zM524.3 520h1.2v4h-1.2zM528.97 513h4.1v5h-4.1zM530.37 520h1.2v4h-1.2zM535.04 513h4.1v5h-4.1zM536.44 520h1.2v4h-1.2zM541.11 513h4.1v5h-4.1zM542.51 520h1.2v4h-1.2zM547.18 513h4.1v5h-4.1zM548.58 520h1.2v4h-1.2zM553.25 513h4.1v5h-4.1zM554.65 520h1.2v4h-1.2zM559.32 513h4.1v5h-4.1zM560.72 520h1.2v4h-1.2zM565.39 513h4.1v5h-4.1zM566.79 520h1.2v4h-1.2zM571.46 513h4.1v5h-4.1zM572.86 520h1.2v4h-1.2zM577.53 513h4.1v5h-4.1zM578.93 520h1.2v4h-1.2zM583.6 513h4.1v5h-4.1zM585 520h1.2v4h-1.2zM589.67 513h4.1v5h-4.1zM591.07 520h1.2v4h-1.2zM595.74 513h4.1v5h-4.1zM597.14 520h1.2v4h-1.2zM601.81 513h4.1v5h-4.1zM603.21 520h1.2v4h-1.2zM607.88 513h4.1v5h-4.1zM609.28 520h1.2v4h-1.2zM613.95 513h4.1v5h-4.1zM615.35 520h1.2v4h-1.2zM620.02 513h4.1v5h-4.1zM621.42 520h1.2v4h-1.2zM626.09 513h4.1v5h-4.1zM627.49 520h1.2v4h-1.2zM460.5 511h1.2v1h-1.2zM466.57 511h1.2v1h-1.2zM472.64 511h1.2v1h-1.2zM478.71 511h1.2v1h-1.2zM484.78 511h1.2v1h-1.2zM490.85 511h1.2v1h-1.2zM496.92 511h1.2v1h-1.2zM502.99 511h1.2v1h-1.2zM509.06 511h1.2v1h-1.2zM515.13 511h1.2v1h-1.2zM521.2 511h1.2v1h-1.2zM527.27 511h1.2v1h-1.2zM533.34 511h1.2v1h-1.2zM539.41 511h1.2v1h-1.2zM545.48 511h1.2v1h-1.2zM551.55 511h1.2v1h-1.2zM557.62 511h1.2v1h-1.2zM563.69 511h1.2v1h-1.2zM569.76 511h1.2v1h-1.2zM575.83 511h1.2v1h-1.2zM581.9 511h1.2v1h-1.2zM587.97 511h1.2v1h-1.2zM594.04 511h1.2v1h-1.2zM600.11 511h1.2v1h-1.2zM606.18 511h1.2v1h-1.2zM612.25 511h1.2v1h-1.2zM618.32 511h1.2v1h-1.2zM624.39 511h1.2v1h-1.2zM630.46 511h1.2v1h-1.2z"/>
<path fill="#000" d="M638 511h10.4v10h-10.4z"/>
<path fill="#fff" d="M639 512h8.4v8h-8.4z"/>
<path d="M640.5 519h5v3h2.5v3.2h-7.5z" fill="#fff" stroke="#000" stroke-width="1.2"/>
<path fill="#000" d="M645.5 520h3v2h-3zM652 512h7v1h-7zM652 519h7v1h-7zM440 527h16v7h-16z"/>
<path fill="#fff" d="M441 528h14v5h-14z"/>
<path fill="#000" d="M459 527h30v7h-30z"/>
<path fill="#fff" d="M460 528h28v5h-28z"/>
<path fill="#000" d="M494 527h30v7h-30z"/>
<path fill="#fff" d="M495 528h28v5h-28z"/>
<path fill="#000" d="M532 527h30v7h-30z"/>
<path fill="#fff" d="M533 528h28v5h-28z"/>
<path fill="#000" d="M568 527h30v7h-30z"/>
<path fill="#fff" d="M569 528h28v5h-28z"/>
<path fill="#000" d="M605 527h30v7h-30z"/>
<path fill="#fff" d="M606 528h28v5h-28z"/>
<path fill="#000" d="M638 527h15v7h-15z"/>
<path fill="#fff" d="M639 528h13v5h-13z"/>
<path fill="#000" d="M433 536h8v1h-8zM433 543h8v1h-8zM444 535h10v10h-10z"/>
<path fill="#fff" d="M445 536h8v8h-8z"/>
<path d="M446.5 543h5v6.2h-7.5v-3.2h2.5z" fill="#fff" stroke="#000" stroke-width="1.2"/>
<path fill="#000" d="M444 544h3v2h-3zM458.3 535h175.5v13.8h-175.5z"/>
<path fill="#fff" d="M459.3 537h1v5h-1zM631.8 537h1v5h-1zM462.2 537h4.1v5h-4.1zM463.6 544h1.2v4h-1.2zM468.27 537h4.1v5h-4.1zM469.67 544h1.2v4h-1.2zM474.34 537h4.1v5h-4.1zM475.74 544h1.2v4h-1.2zM480.41 537h4.1v5h-4.1zM481.81 544h1.2v4h-1.2zM486.48 537h4.1v5h-4.1zM487.88 544h1.2v4h-1.2zM492.55 537h4.1v5h-4.1zM493.95 544h1.2v4h-1.2zM498.62 537h4.1v5h-4.1zM500.02 544h1.2v4h-1.2zM504.69 537h4.1v5h-4.1zM506.09 544h1.2v4h-1.2zM510.76 537h4.1v5h-4.1zM512.16 544h1.2v4h-1.2zM516.83 537h4.1v5h-4.1zM518.23 544h1.2v4h-1.2zM522.9 537h4.1v5h-4.1zM524.3 544h1.2v4h-1.2zM528.97 537h4.1v5h-4.1zM530.37 544h1.2v4h-1.2zM535.04 537h4.1v5h-4.1zM536.44 544h1.2v4h-1.2zM541.11 537h4.1v5h-4.1zM542.51 544h1.2v4h-1.2zM547.18 537h4.1v5h-4.1zM548.58 544h1.2v4h-1.2zM553.25 537h4.1v5h-4.1zM554.65 544h1.2v4h-1.2zM559.32 537h4.1v5h-4.1zM560.72 544h1.2v4h-1.2zM565.39 537h4.1v5h-4.1zM566.79 544h1.2v4h-1.2zM571.46 537h4.1v5h-4.1zM572.86 544h1.2v4h-1.2zM577.53 537h4.1v5h-4.1zM578.93 544h1.2v4h-1.2zM583.6 537h4.1v5h-4.1zM585 544h1.2v4h-1.2zM589.67 537h4.1v5h-4.1zM591.07 544h1.2v4h-1.2zM595.74 537h4.1v5h-4.1zM597.14 544h1.2v4h-1.2zM601.81 537h4.1v5h-4.1zM603.21 544h1.2v4h-1.2zM607.88 537h4.1v5h-4.1zM609.28 544h1.2v4h-1.2zM613.95 537h4.1v5h-4.1zM615.35 544h1.2v4h-1.2zM620.02 537h4.1v5h-4.1zM621.42 544h1.2v4h-1.2zM626.09 537h4.1v5h-4.1zM627.49 544h1.2v4h-1.2zM460.5 535h1.2v1h-1.2zM466.57 535h1.2v1h-1.2zM472.64 535h1.2v1h-1.2zM478.71 535h1.2v1h-1.2zM484.78 535h1.2v1h-1.2zM490.85 535h1.2v1h-1.2zM496.92 535h1.2v1h-1.2zM502.99 535h1.2v1h-1.2zM509.06 535h1.2v1h-1.2zM515.13 535h1.2v1h-1.2zM521.2 535h1.2v1h-1.2zM527.27 535h1.2v1h-1.2zM533.34 535h1.2v1h-1.2zM539.41 535h1.2v1h-1.2zM545.48 535h1.2v1h-1.2zM551.55 535h1.2v1h-1.2zM557.62 535h1.2v1h-1.2zM563.69 535h1.2v1h-1.2zM569.76 535h1.2v1h-1.2zM575.83 535h1.2v1h-1.2zM581.9 535h1.2v1h-1.2zM587.97 535h1.2v1h-1.2zM594.04 535h1.2v1h-1.2zM600.11 535h1.2v1h-1.2zM606.18 535h1.2v1h-1.2zM612.25 535h1.2v1h-1.2zM618.32 535h1.2v1h-1.2zM624.39 535h1.2v1h-1.2zM630.46 535h1.2v1h-1.2z"/>
<path fill="#000" d="M638 535h10.4v10h-10.4z"/>
<path fill="#fff" d="M639 536h8.4v8h-8.4z"/>
<path d="M640.5 543h5v3h2.5v3.2h-7.5z" fill="#fff" stroke="#000" stroke-width="1.2"/>
<path fill="#000" d="M645.5 544h3v2h-3zM652 536h7v1h-7zM652 543h7v1h-7zM441 534h3v17h-3zM647.7 534h3.5v17h-3.5zM536 50h201v20h-201z"/>
<path fill="#fff" d="M544 57h185v6h-185z"/>
<path fill="#000" d="M397 50h129v20h-129z"/>
<path fill="#fff" d="M405 57h113v6h-113z"/>
<path fill="#000" d="M536 95h201v19h-201z"/>
<path fill="#fff" d="M544 102h185v5h-185z"/>
<path fill="#000" d="M397 95h129v19h-129z"/>
<path fill="#fff" d="M405 102h113v5h-113z"/>
<path fill="#000" d="M536 139h201v20h-201z"/>
<path fill="#fff" d="M544 146h185v6h-185z"/>
<path fill="#000" d="M397 139h129v20h-129z"/>
<path fill="#fff" d="M405 146h113v6h-113z"/>
<path fill="#000" d="M536 183h201v19h-201z"/>
<path fill="#fff" d="M544 190h185v5h-185z"/>
<path fill="#000" d="M397 183h129v19h-129z"/>
<path fill="#fff" d="M405 190h113v5h-113z"/>
<path fill="#000" d="M536 226h201v20h-201z"/>
<path fill="#fff" d="M544 233h185v6h-185z"/>
<path fill="#000" d="M397 226h129v20h-129z"/>
<path fill="#fff" d="M405 233h113v6h-113z"/>
<path fill="#000" d="M536 271h201v19h-201z"/>
<path fill="#fff" d="M544 278h185v5h-185z"/>
<path fill="#000" d="M397 271h128v19h-128z"/>
<path fill="#fff" d="M405 278h112v5h-112z"/>
<path fill="#000" d="M536 314h201v20h-201z"/>
<path fill="#fff" d="M544 321h185v6h-185z"/>
<path fill="#000" d="M536 360h201v19h-201z"/>
<path fill="#fff" d="M544 367h185v5h-185z"/>
<text transform="translate(618.99 87.2) scale(0.84 1)" font-size="12" fill="#000" textLength="52.75" lengthAdjust="spacing">MH0039</text>
<path fill="#000" d="M417 252.7h14v6.3h-14z"/>
<path fill="#fff" d="M418.2 254.1h1.6v3.9h-1.6zM421.87 254.1h1.6v3.9h-1.6zM425.53 254.1h1.6v3.9h-1.6zM429.2 254.1h1.6v3.9h-1.6z"/>
<path fill="#000" d="M397 293h127.5v43h-127.5z"/>
<path fill="#fff" d="M401 295h3v1h-3zM406 295h3v1h-3zM411 295h3v1h-3zM416 295h3v1h-3zM421 295h3v1h-3zM426 295h3v1h-3zM431 295h3v1h-3zM436 295h3v1h-3zM441 295h3v1h-3zM446 295h3v1h-3zM451 295h3v1h-3zM456 295h3v1h-3zM461 295h3v1h-3zM466 295h3v1h-3zM471 295h3v1h-3zM476 295h3v1h-3zM481 295h3v1h-3zM486 295h3v1h-3zM491 295h3v1h-3zM496 295h3v1h-3zM501 295h3v1h-3zM506 295h3v1h-3zM511 295h3v1h-3zM516 295h3v1h-3zM521 295h3v1h-3zM522 309h3v12h-3zM446 307h28v15h-28z"/>
<text transform="translate(447.84 318.2) scale(0.84 1)" font-size="13" fill="#000" textLength="30.87" lengthAdjust="spacing">KBD</text>
<path fill="#000" d="M416 339h89v41h-89z"/>
<path fill="#fff" d="M419 377h3v1h-3zM424 377h3v1h-3zM429 377h3v1h-3zM434 377h3v1h-3zM439 377h3v1h-3zM444 377h3v1h-3zM449 377h3v1h-3zM454 377h3v1h-3zM459 377h3v1h-3zM464 377h3v1h-3zM469 377h3v1h-3zM474 377h3v1h-3zM479 377h3v1h-3zM484 377h3v1h-3zM489 377h3v1h-3zM494 377h3v1h-3zM499 377h3v1h-3z"/>
<path d="M505.5 345Q501 359 505.5 373z" fill="#fff"/>
<rect x="440" y="353" width="41" height="13" rx="2" fill="#fff"/>
<text transform="translate(444.84 364) scale(0.84 1)" font-size="13" fill="#000" textLength="36.11" lengthAdjust="spacing">BIOS</text>
<path fill="#000" d="M750 373h26.2v6h-26.2z"/>
<path fill="#fff" d="M750.8 374.3h1.2v3.5h-1.2zM755.8 374.3h2.2v3.5h-2.2zM761.8 374.3h1.2v3.5h-1.2zM767.8 374.3h1.2v3.5h-1.2zM773.2 374.3h1.6v3.5h-1.6zM770 375h2v2h-2z"/>
<path d="M753.5 400.5h20q3 0 3 3v8q-1.3 1.5 0 3v11q-1.3 1.5 0 3v8q0 3 -3 3h-20q-3 0 -3 -3v-8q1.3 -1.5 0 -3v-11q1.3 -1.5 0 -3v-8q0 -3 3 -3z" fill="url(#dots)" stroke="#000" stroke-width="1" class="aa"/>
<path fill="#000" d="M704 427h24v112h-24z"/>
<path fill="#fff" d="M705 428h22v110h-22z"/>
<path fill="#000" d="M719 427h1v112h-1zM707 428h2v1.5h-2zM712 428h2v1.5h-2zM709 429h3v1h-3zM707 536.5h2v1.5h-2zM712 536.5h2v1.5h-2zM709 536h3v1h-3zM707 434h8v7h-8z"/>
<path fill="#fff" d="M708 435h6v5h-6z"/>
<path fill="#000" d="M716 429.3h2v6.4h-2zM721.4 429.4h3.6v5h-3.6zM720.7 430.6h5v2.4h-5zM722.2 428.6h2v6.6h-2zM707 443h8v7h-8z"/>
<path fill="#fff" d="M708 444h6v5h-6z"/>
<path fill="#000" d="M716 438.6h2v6.4h-2zM721.4 438.7h3.6v5h-3.6zM720.7 439.9h5v2.4h-5zM722.2 437.9h2v6.6h-2zM707 452h8v7h-8z"/>
<path fill="#fff" d="M708 453h6v5h-6z"/>
<path fill="#000" d="M716 447.9h2v6.4h-2zM721.4 448h3.6v5h-3.6zM720.7 449.2h5v2.4h-5zM722.2 447.2h2v6.6h-2zM707 462h8v7h-8z"/>
<path fill="#fff" d="M708 463h6v5h-6z"/>
<path fill="#000" d="M716 457.2h2v6.4h-2zM721.4 457.3h3.6v5h-3.6zM720.7 458.5h5v2.4h-5zM722.2 456.5h2v6.6h-2zM707 471h8v7h-8z"/>
<path fill="#fff" d="M708 472h6v5h-6z"/>
<path fill="#000" d="M716 466.5h2v6.4h-2zM721.4 466.6h3.6v5h-3.6zM720.7 467.8h5v2.4h-5zM722.2 465.8h2v6.6h-2zM707 480h8v7h-8z"/>
<path fill="#fff" d="M708 481h6v5h-6z"/>
<path fill="#000" d="M716 475.8h2v6.4h-2zM721.4 475.9h3.6v5h-3.6zM720.7 477.1h5v2.4h-5zM722.2 475.1h2v6.6h-2zM707 489h8v7h-8z"/>
<path fill="#fff" d="M708 490h6v5h-6z"/>
<path fill="#000" d="M716 485.1h2v6.4h-2zM721.4 485.2h3.6v5h-3.6zM720.7 486.4h5v2.4h-5zM722.2 484.4h2v6.6h-2zM707 499h8v7h-8z"/>
<path fill="#fff" d="M708 500h6v5h-6z"/>
<path fill="#000" d="M716 494.4h2v6.4h-2zM721.4 494.5h3.6v5h-3.6zM720.7 495.7h5v2.4h-5zM722.2 493.7h2v6.6h-2zM707 508h8v7h-8z"/>
<path fill="#fff" d="M708 509h6v5h-6z"/>
<path fill="#000" d="M716 503.7h2v6.4h-2zM721.4 503.8h3.6v5h-3.6zM720.7 505h5v2.4h-5zM722.2 503h2v6.6h-2zM707 517h8v7h-8z"/>
<path fill="#fff" d="M708 518h6v5h-6z"/>
<path fill="#000" d="M716 513h2v6.4h-2zM721.4 513.1h3.6v5h-3.6zM720.7 514.3h5v2.4h-5zM722.2 512.3h2v6.6h-2zM707 527h8v7h-8z"/>
<path fill="#fff" d="M708 528h6v5h-6z"/>
<path fill="#000" d="M716 522.3h2v6.4h-2zM721.4 522.4h3.6v5h-3.6zM720.7 523.6h5v2.4h-5zM722.2 521.6h2v6.6h-2zM707 536h8v7h-8z"/>
<path fill="#fff" d="M708 537h6v5h-6z"/>
<path fill="#000" d="M716 531.6h2v6.4h-2zM721.4 531.7h3.6v5h-3.6zM720.7 532.9h5v2.4h-5zM722.2 530.9h2v6.6h-2zM716 540.9h2v4h-2zM755 468h31v37h-31zM780 463h6v47h-6zM782 461h4v51h-4zM749 476h7v9h-7z"/>
<path fill="#fff" d="M750 477h5v7h-5z"/>
<path fill="#000" d="M749 488h7v9h-7z"/>
<path fill="#fff" d="M750 489h5v7h-5zM755.2 477h1.3v7h-1.3zM755.2 489h1.3v7h-1.3zM755.2 485h1.3v3h-1.3z"/>
<path fill="#000" d="M755.6 478.5h1v0.8h-1zM755.6 480.5h1v0.8h-1zM755.6 482.5h1v0.8h-1zM755.6 490.5h1v0.8h-1zM755.6 492.5h1v0.8h-1zM755.6 494.5h1v0.8h-1z"/>
<polygon points="221.5,24 227.5,24 237.5,43.5" fill="#fff" stroke="#000" stroke-width="1.7" stroke-linejoin="miter"/>
<polygon points="221.5,24 224.2,24 237.5,43.5" fill="#000"/>
<rect x="208" y="7" width="39" height="19" rx="4" fill="#000"/>
<rect x="210" y="8.5" width="34.5" height="15" rx="2.5" fill="#fff"/>
<text transform="translate(211.21 20.76) scale(0.84 1)" font-size="13.5" fill="#000" textLength="36.41" lengthAdjust="spacing">JP14</text>
<polygon points="264.5,24 270.5,24 255.5,43.5" fill="#fff" stroke="#000" stroke-width="1.7" stroke-linejoin="miter"/>
<polygon points="264.5,24 267.2,24 255.5,43.5" fill="#000"/>
<rect x="254" y="7" width="34" height="19" rx="4" fill="#000"/>
<rect x="256" y="8.5" width="29.5" height="15" rx="2.5" fill="#fff"/>
<text transform="translate(258.21 20.76) scale(0.84 1)" font-size="13.5" fill="#000" textLength="26.41" lengthAdjust="spacing">JP9</text>
<polygon points="210,52 210,56 228,54" fill="#fff" stroke="#000" stroke-width="1.7" stroke-linejoin="miter"/>
<polygon points="210,52 210,53.8 228,54" fill="#000"/>
<rect x="174" y="45.5" width="38" height="16.5" rx="4" fill="#000"/>
<rect x="176" y="47" width="33.5" height="12.5" rx="2.5" fill="#fff"/>
<text transform="translate(176.21 58.01) scale(0.84 1)" font-size="13.5" fill="#000" textLength="36.41" lengthAdjust="spacing">JP13</text>
<path fill="#000" d="M268.5 48h11v8h-11z"/>
<polygon points="281,49.8 281,53.6 271.5,51.5" fill="#fff"/>
<rect x="278.5" y="43" width="32.5" height="16.5" rx="4" fill="#000"/>
<rect x="280.5" y="44.5" width="28" height="12.5" rx="2.5" fill="#fff"/>
<text transform="translate(282.21 55.51) scale(0.84 1)" font-size="13.5" fill="#000" textLength="29.75" lengthAdjust="spacing">JP8</text>
<path fill="#000" d="M281 63h32v20h-32zM283 66h28v15h-28z"/>
<path fill="#fff" d="M284.3 67.3h24.7v11.7h-24.7z"/>
<text transform="translate(284.24 78) scale(0.84 1)" font-size="13" fill="#000" textLength="30.75" lengthAdjust="spacing">TAG</text>
<polygon points="225.5,82 232,82 238.5,67" fill="#fff" stroke="#000" stroke-width="1.7" stroke-linejoin="miter"/>
<polygon points="225.5,82 228.43,82 238.5,67" fill="#000"/>
<rect x="215" y="80" width="36.5" height="17" rx="4" fill="#000"/>
<rect x="217" y="81.5" width="32" height="13" rx="2.5" fill="#fff"/>
<text transform="translate(216.61 92.76) scale(0.84 1)" font-size="13.5" fill="#000" textLength="35.94" lengthAdjust="spacing">JP12</text>
<polygon points="261,88 265.5,88 255.7,67" fill="#fff" stroke="#000" stroke-width="1.7" stroke-linejoin="miter"/>
<polygon points="261,88 263.02,88 255.7,67" fill="#000"/>
<rect x="250.5" y="85.5" width="32.5" height="16.5" rx="4" fill="#000"/>
<rect x="252.5" y="87" width="28" height="12.5" rx="2.5" fill="#fff"/>
<text transform="translate(254.21 98.01) scale(0.84 1)" font-size="13.5" fill="#000" textLength="27.72" lengthAdjust="spacing">JP7</text>
<polygon points="273,120 273,126 247,119.7" fill="#fff" stroke="#000" stroke-width="1.7" stroke-linejoin="miter"/>
<polygon points="273,120 273,122.7 247,119.7" fill="#000"/>
<rect x="271" y="114" width="39" height="18" rx="4" fill="#000"/>
<rect x="273" y="115.5" width="34.5" height="14" rx="2.5" fill="#fff"/>
<text transform="translate(275.21 127.26) scale(0.84 1)" font-size="13.5" fill="#000" textLength="35.22" lengthAdjust="spacing">JP11</text>
<polygon points="225,157 232,157 237.6,136" fill="#fff" stroke="#000" stroke-width="1.7" stroke-linejoin="miter"/>
<polygon points="225,157 228.15,157 237.6,136" fill="#000"/>
<rect x="204" y="155" width="38" height="18.5" rx="4" fill="#000"/>
<rect x="206" y="156.5" width="33.5" height="14.5" rx="2.5" fill="#fff"/>
<text transform="translate(206.81 168.51) scale(0.84 1)" font-size="13.5" fill="#000" textLength="36.89" lengthAdjust="spacing">JP10</text>
<polygon points="31.5,158 39,158 56.5,175.5" fill="#fff" stroke="#000" stroke-width="1.7" stroke-linejoin="miter"/>
<polygon points="31.5,158 34.88,158 56.5,175.5" fill="#000"/>
<rect x="19.5" y="142.5" width="37" height="17" rx="4" fill="#000"/>
<rect x="21.5" y="144" width="32.5" height="13" rx="2.5" fill="#fff"/>
<text transform="translate(22.11 155.26) scale(0.84 1)" font-size="13.5" fill="#000" textLength="35.82" lengthAdjust="spacing">JP16</text>
<polygon points="114,168.7 114,173 96.5,175" fill="#fff" stroke="#000" stroke-width="1.7" stroke-linejoin="miter"/>
<polygon points="114,168.7 114,170.63 96.5,175" fill="#000"/>
<rect x="112" y="163" width="36" height="16.5" rx="4" fill="#000"/>
<rect x="114" y="164.5" width="31.5" height="12.5" rx="2.5" fill="#fff"/>
<text transform="translate(113.61 175.51) scale(0.84 1)" font-size="13.5" fill="#000" textLength="35.94" lengthAdjust="spacing">JP15</text>
<polygon points="294,228 294,233.5 276.5,231" fill="#fff" stroke="#000" stroke-width="1.7" stroke-linejoin="miter"/>
<polygon points="294,228 294,230.47 276.5,231" fill="#000"/>
<rect x="292" y="221" width="32.5" height="19" rx="4" fill="#000"/>
<rect x="294" y="222.5" width="28" height="15" rx="2.5" fill="#fff"/>
<text transform="translate(299.91 234.76) scale(0.84 1)" font-size="13.5" fill="#000" textLength="17.72" lengthAdjust="spacing">J9</text>
<polygon points="294,249.5 294,255.5 276.5,246.5" fill="#fff" stroke="#000" stroke-width="1.7" stroke-linejoin="miter"/>
<polygon points="294,249.5 294,252.2 276.5,246.5" fill="#000"/>
<rect x="292" y="243.5" width="32.5" height="17.5" rx="4" fill="#000"/>
<rect x="294" y="245" width="28" height="13.5" rx="2.5" fill="#fff"/>
<text transform="translate(299.91 256.51) scale(0.84 1)" font-size="13.5" fill="#000" textLength="17.72" lengthAdjust="spacing">J5</text>
<polygon points="59,267 59,273 41,278" fill="#fff" stroke="#000" stroke-width="1.7" stroke-linejoin="miter"/>
<polygon points="59,267 59,269.7 41,278" fill="#000"/>
<rect x="57" y="264" width="31" height="17" rx="4" fill="#000"/>
<rect x="59" y="265.5" width="26.5" height="13" rx="2.5" fill="#fff"/>
<text transform="translate(64.21 276.76) scale(0.84 1)" font-size="13.5" fill="#000" textLength="16.18" lengthAdjust="spacing">J7</text>
<polygon points="59,292.5 59,300 36,286.5" fill="#fff" stroke="#000" stroke-width="1.7" stroke-linejoin="miter"/>
<polygon points="59,292.5 59,295.88 36,286.5" fill="#000"/>
<rect x="57" y="286" width="31" height="16.5" rx="4" fill="#000"/>
<rect x="59" y="287.5" width="26.5" height="12.5" rx="2.5" fill="#fff"/>
<text transform="translate(64.21 298.51) scale(0.84 1)" font-size="13.5" fill="#000" textLength="16.18" lengthAdjust="spacing">J6</text>
<polygon points="19,386 26,386 15,366" fill="#fff" stroke="#000" stroke-width="1.7" stroke-linejoin="miter"/>
<polygon points="19,386 22.15,386 15,366" fill="#000"/>
<rect x="9.5" y="384" width="33" height="17" rx="4" fill="#000"/>
<rect x="11.5" y="385.5" width="28.5" height="13" rx="2.5" fill="#fff"/>
<text transform="translate(17.21 396.76) scale(0.84 1)" font-size="13.5" fill="#000" textLength="17.37" lengthAdjust="spacing">J4</text>
<polygon points="449,256 449,261 431,255.5" fill="#fff" stroke="#000" stroke-width="1.7" stroke-linejoin="miter"/>
<polygon points="449,256 449,258.25 431,255.5" fill="#000"/>
<rect x="447" y="249.5" width="33" height="18" rx="4" fill="#000"/>
<rect x="449" y="251" width="28.5" height="14" rx="2.5" fill="#fff"/>
<text transform="translate(451.21 262.76) scale(0.84 1)" font-size="13.5" fill="#000" textLength="26.89" lengthAdjust="spacing">JP1</text>
<polygon points="757,353 762,353 764,373.5" fill="#fff" stroke="#000" stroke-width="1.7" stroke-linejoin="miter"/>
<polygon points="757,353 759.25,353 764,373.5" fill="#000"/>
<rect x="745" y="336" width="34" height="19" rx="4" fill="#000"/>
<rect x="747" y="337.5" width="29.5" height="15" rx="2.5" fill="#fff"/>
<text transform="translate(754.21 349.76) scale(0.84 1)" font-size="13.5" fill="#000" textLength="17.37" lengthAdjust="spacing">J8</text>
<path fill="#000" d="M63 89h57v18.5h-57zM63 92h57v15.5h-57z"/>
<path fill="#fff" d="M64.3 93.3h53.7v12.2h-53.7z"/>
<text transform="translate(64.97 103.7) scale(0.84 1)" font-size="12.5" fill="#000" textLength="56.87" lengthAdjust="spacing">BANK 0</text>
<path fill="#000" d="M151 88.5h58v18.5h-58zM151 91.5h58v15.5h-58z"/>
<path fill="#fff" d="M152.3 92.8h54.7v12.2h-54.7z"/>
<text transform="translate(154.86 103.3) scale(0.84 1)" font-size="12.5" fill="#000" textLength="55.8" lengthAdjust="spacing">BANK 1</text>
<rect x="240.5" y="290.5" width="58" height="16.5" rx="4" fill="#000"/>
<rect x="242.5" y="292" width="53.5" height="12.5" rx="2.5" fill="#fff"/>
<text transform="translate(243.26 303) scale(0.84 1)" font-size="12.5" fill="#000" textLength="57.7" lengthAdjust="spacing">BANK 3</text>
<rect x="240.5" y="373.5" width="58" height="17" rx="4" fill="#000"/>
<rect x="242.5" y="375" width="53.5" height="13" rx="2.5" fill="#fff"/>
<text transform="translate(243.26 386) scale(0.84 1)" font-size="12.5" fill="#000" textLength="57.7" lengthAdjust="spacing">BANK 2</text>
<path fill="#000" d="M521.5 419.5h56.5v15h-56.5z"/>
<path fill="#fff" d="M522.8 420.8h53.2v11.7h-53.2z"/>
<text transform="translate(524.24 431.8) scale(0.84 1)" font-size="13" fill="#000" textLength="56.22" lengthAdjust="spacing">BANK 1</text>
<path fill="#000" d="M521.5 500.5h56.5v15h-56.5z"/>
<path fill="#fff" d="M522.8 501.8h53.2v11.7h-53.2z"/>
<text transform="translate(524.24 512.6) scale(0.84 1)" font-size="13" fill="#000" textLength="56.22" lengthAdjust="spacing">BANK 0</text>
<rect x="59.5" y="331" width="33" height="18.5" rx="4" fill="#000"/>
<rect x="61.5" y="332.5" width="28.5" height="14.5" rx="2.5" fill="#fff"/>
<text transform="translate(62.81 344) scale(0.84 1)" font-size="13.5" fill="#000" textLength="31.41" lengthAdjust="spacing">NPU</text>
</svg>
</body></html>
